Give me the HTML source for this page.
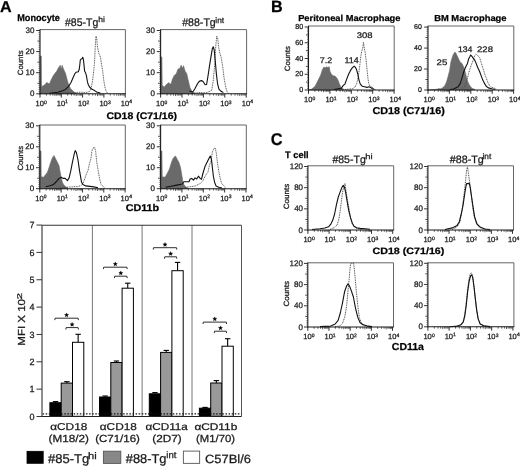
<!DOCTYPE html>
<html><head><meta charset="utf-8"><style>
html,body{margin:0;padding:0;background:#fff;width:520px;height:467px;overflow:hidden}
svg{display:block;font-family:"Liberation Sans", sans-serif;will-change:transform;text-rendering:geometricPrecision;filter:blur(0.25px)}
text{stroke:#111;stroke-width:0.25px;paint-order:stroke}
</style></head><body>
<svg width="520" height="467" viewBox="0 0 520 467">
<rect width="520" height="467" fill="#fff"/>
<line x1="40.00" y1="29.60" x2="125.40" y2="29.60" stroke="#555" stroke-width="0.9" />
<line x1="125.40" y1="29.60" x2="125.40" y2="93.80" stroke="#555" stroke-width="0.9" />
<polygon points="40.00,93.80 40.20,56.00 41.30,56.00 41.50,86.40 43.90,85.40 46.90,82.50 49.40,84.00 51.30,79.50 53.30,75.60 54.80,73.60 56.70,71.20 58.20,68.20 60.20,65.30 61.20,69.20 62.10,65.30 63.60,69.20 65.60,73.60 67.10,79.50 68.50,84.40 70.50,88.40 72.50,90.40 74.40,92.30 76.40,93.50 76.40,93.80" fill="#6a6a6a" stroke="#6a6a6a" stroke-width="0.6"/>
<polyline points="58.00,93.30 65.00,92.50 72.00,92.80 80.00,92.20 86.00,92.50 89.50,91.50 90.90,89.10 92.40,81.90 93.80,70.20 94.60,61.50 95.30,45.50 96.00,36.00 96.70,38.20 97.50,46.90 98.90,53.50 100.40,57.10 101.50,64.40 102.60,70.20 103.60,79.00 104.70,86.20 106.20,91.30 107.70,93.50" fill="none" stroke="#4a4a4a" stroke-width="0.95" stroke-dasharray="1,0.75" stroke-linejoin="round"/>
<polyline points="49.80,93.30 57.70,92.30 62.60,90.80 65.60,89.40 68.50,86.40 71.00,82.50 72.50,79.00 74.00,75.50 75.00,73.50 76.00,72.30 78.30,71.70 79.30,69.00 79.90,64.00 80.30,60.00 81.00,59.20 82.20,58.60 82.70,57.30 83.30,59.00 83.80,63.00 84.20,67.00 84.60,71.00 85.50,72.70 86.40,75.60 87.20,80.50 88.00,84.00 89.50,87.00 91.60,89.10 94.60,90.60 96.70,92.00 100.40,93.00" fill="none" stroke="#111" stroke-width="1.1" stroke-linejoin="round"/>
<line x1="40.00" y1="29.30" x2="40.00" y2="94.30" stroke="#1a1a1a" stroke-width="1.1" />
<line x1="39.50" y1="93.80" x2="125.80" y2="93.80" stroke="#1a1a1a" stroke-width="1.1" />
<line x1="36.20" y1="93.80" x2="40.00" y2="93.80" stroke="#1a1a1a" stroke-width="0.9" />
<text x="29.90" y="96.30" font-size="8" fill="#1a1a1a" textLength="4.45" lengthAdjust="spacingAndGlyphs">0</text>
<line x1="38.50" y1="91.69" x2="40.00" y2="91.69" stroke="#333" stroke-width="0.6" />
<line x1="38.50" y1="89.58" x2="40.00" y2="89.58" stroke="#333" stroke-width="0.6" />
<line x1="38.50" y1="87.47" x2="40.00" y2="87.47" stroke="#333" stroke-width="0.6" />
<line x1="38.50" y1="85.36" x2="40.00" y2="85.36" stroke="#333" stroke-width="0.6" />
<line x1="37.40" y1="83.25" x2="40.00" y2="83.25" stroke="#1a1a1a" stroke-width="0.8" />
<line x1="38.50" y1="81.14" x2="40.00" y2="81.14" stroke="#333" stroke-width="0.6" />
<line x1="38.50" y1="79.03" x2="40.00" y2="79.03" stroke="#333" stroke-width="0.6" />
<line x1="38.50" y1="76.92" x2="40.00" y2="76.92" stroke="#333" stroke-width="0.6" />
<line x1="38.50" y1="74.81" x2="40.00" y2="74.81" stroke="#333" stroke-width="0.6" />
<line x1="36.20" y1="72.70" x2="40.00" y2="72.70" stroke="#1a1a1a" stroke-width="0.9" />
<text x="25.45" y="75.20" font-size="8" fill="#1a1a1a" textLength="8.90" lengthAdjust="spacingAndGlyphs">10</text>
<line x1="38.50" y1="70.59" x2="40.00" y2="70.59" stroke="#333" stroke-width="0.6" />
<line x1="38.50" y1="68.48" x2="40.00" y2="68.48" stroke="#333" stroke-width="0.6" />
<line x1="38.50" y1="66.37" x2="40.00" y2="66.37" stroke="#333" stroke-width="0.6" />
<line x1="38.50" y1="64.26" x2="40.00" y2="64.26" stroke="#333" stroke-width="0.6" />
<line x1="37.40" y1="62.15" x2="40.00" y2="62.15" stroke="#1a1a1a" stroke-width="0.8" />
<line x1="38.50" y1="60.04" x2="40.00" y2="60.04" stroke="#333" stroke-width="0.6" />
<line x1="38.50" y1="57.93" x2="40.00" y2="57.93" stroke="#333" stroke-width="0.6" />
<line x1="38.50" y1="55.82" x2="40.00" y2="55.82" stroke="#333" stroke-width="0.6" />
<line x1="38.50" y1="53.71" x2="40.00" y2="53.71" stroke="#333" stroke-width="0.6" />
<line x1="36.20" y1="51.60" x2="40.00" y2="51.60" stroke="#1a1a1a" stroke-width="0.9" />
<text x="25.45" y="54.10" font-size="8" fill="#1a1a1a" textLength="8.90" lengthAdjust="spacingAndGlyphs">20</text>
<line x1="38.50" y1="49.49" x2="40.00" y2="49.49" stroke="#333" stroke-width="0.6" />
<line x1="38.50" y1="47.38" x2="40.00" y2="47.38" stroke="#333" stroke-width="0.6" />
<line x1="38.50" y1="45.27" x2="40.00" y2="45.27" stroke="#333" stroke-width="0.6" />
<line x1="38.50" y1="43.16" x2="40.00" y2="43.16" stroke="#333" stroke-width="0.6" />
<line x1="37.40" y1="41.05" x2="40.00" y2="41.05" stroke="#1a1a1a" stroke-width="0.8" />
<line x1="38.50" y1="38.94" x2="40.00" y2="38.94" stroke="#333" stroke-width="0.6" />
<line x1="38.50" y1="36.83" x2="40.00" y2="36.83" stroke="#333" stroke-width="0.6" />
<line x1="38.50" y1="34.72" x2="40.00" y2="34.72" stroke="#333" stroke-width="0.6" />
<line x1="38.50" y1="32.61" x2="40.00" y2="32.61" stroke="#333" stroke-width="0.6" />
<line x1="36.20" y1="30.50" x2="40.00" y2="30.50" stroke="#1a1a1a" stroke-width="0.9" />
<text x="25.45" y="33.00" font-size="8" fill="#1a1a1a" textLength="8.90" lengthAdjust="spacingAndGlyphs">30</text>
<line x1="40.00" y1="93.80" x2="40.00" y2="97.60" stroke="#1a1a1a" stroke-width="0.9" />
<line x1="46.41" y1="93.80" x2="46.41" y2="95.60" stroke="#1a1a1a" stroke-width="0.7" />
<line x1="50.16" y1="93.80" x2="50.16" y2="95.60" stroke="#1a1a1a" stroke-width="0.7" />
<line x1="52.82" y1="93.80" x2="52.82" y2="95.60" stroke="#1a1a1a" stroke-width="0.7" />
<line x1="54.89" y1="93.80" x2="54.89" y2="96.10" stroke="#1a1a1a" stroke-width="0.7" />
<line x1="56.57" y1="93.80" x2="56.57" y2="95.60" stroke="#1a1a1a" stroke-width="0.7" />
<line x1="58.00" y1="93.80" x2="58.00" y2="95.60" stroke="#1a1a1a" stroke-width="0.7" />
<line x1="59.24" y1="93.80" x2="59.24" y2="95.60" stroke="#1a1a1a" stroke-width="0.7" />
<line x1="60.33" y1="93.80" x2="60.33" y2="95.60" stroke="#1a1a1a" stroke-width="0.7" />
<text x="35.52" y="106.25" font-size="7.5" fill="#1a1a1a">10</text>
<text x="44.02" y="103.50" font-size="5.0" fill="#1a1a1a">0</text>
<line x1="61.30" y1="93.80" x2="61.30" y2="97.60" stroke="#1a1a1a" stroke-width="0.9" />
<line x1="67.71" y1="93.80" x2="67.71" y2="95.60" stroke="#1a1a1a" stroke-width="0.7" />
<line x1="71.46" y1="93.80" x2="71.46" y2="95.60" stroke="#1a1a1a" stroke-width="0.7" />
<line x1="74.12" y1="93.80" x2="74.12" y2="95.60" stroke="#1a1a1a" stroke-width="0.7" />
<line x1="76.19" y1="93.80" x2="76.19" y2="96.10" stroke="#1a1a1a" stroke-width="0.7" />
<line x1="77.87" y1="93.80" x2="77.87" y2="95.60" stroke="#1a1a1a" stroke-width="0.7" />
<line x1="79.30" y1="93.80" x2="79.30" y2="95.60" stroke="#1a1a1a" stroke-width="0.7" />
<line x1="80.54" y1="93.80" x2="80.54" y2="95.60" stroke="#1a1a1a" stroke-width="0.7" />
<line x1="81.63" y1="93.80" x2="81.63" y2="95.60" stroke="#1a1a1a" stroke-width="0.7" />
<text x="56.82" y="106.25" font-size="7.5" fill="#1a1a1a">10</text>
<text x="65.12" y="103.45" font-size="5.0" fill="#1a1a1a">1</text>
<line x1="82.60" y1="93.80" x2="82.60" y2="97.60" stroke="#1a1a1a" stroke-width="0.9" />
<line x1="89.01" y1="93.80" x2="89.01" y2="95.60" stroke="#1a1a1a" stroke-width="0.7" />
<line x1="92.76" y1="93.80" x2="92.76" y2="95.60" stroke="#1a1a1a" stroke-width="0.7" />
<line x1="95.42" y1="93.80" x2="95.42" y2="95.60" stroke="#1a1a1a" stroke-width="0.7" />
<line x1="97.49" y1="93.80" x2="97.49" y2="96.10" stroke="#1a1a1a" stroke-width="0.7" />
<line x1="99.17" y1="93.80" x2="99.17" y2="95.60" stroke="#1a1a1a" stroke-width="0.7" />
<line x1="100.60" y1="93.80" x2="100.60" y2="95.60" stroke="#1a1a1a" stroke-width="0.7" />
<line x1="101.84" y1="93.80" x2="101.84" y2="95.60" stroke="#1a1a1a" stroke-width="0.7" />
<line x1="102.93" y1="93.80" x2="102.93" y2="95.60" stroke="#1a1a1a" stroke-width="0.7" />
<text x="78.12" y="106.25" font-size="7.5" fill="#1a1a1a">10</text>
<text x="86.58" y="103.50" font-size="5.0" fill="#1a1a1a">2</text>
<line x1="103.90" y1="93.80" x2="103.90" y2="97.60" stroke="#1a1a1a" stroke-width="0.9" />
<line x1="110.31" y1="93.80" x2="110.31" y2="95.60" stroke="#1a1a1a" stroke-width="0.7" />
<line x1="114.06" y1="93.80" x2="114.06" y2="95.60" stroke="#1a1a1a" stroke-width="0.7" />
<line x1="116.72" y1="93.80" x2="116.72" y2="95.60" stroke="#1a1a1a" stroke-width="0.7" />
<line x1="118.79" y1="93.80" x2="118.79" y2="96.10" stroke="#1a1a1a" stroke-width="0.7" />
<line x1="120.47" y1="93.80" x2="120.47" y2="95.60" stroke="#1a1a1a" stroke-width="0.7" />
<line x1="121.90" y1="93.80" x2="121.90" y2="95.60" stroke="#1a1a1a" stroke-width="0.7" />
<line x1="123.14" y1="93.80" x2="123.14" y2="95.60" stroke="#1a1a1a" stroke-width="0.7" />
<line x1="124.23" y1="93.80" x2="124.23" y2="95.60" stroke="#1a1a1a" stroke-width="0.7" />
<text x="99.43" y="106.25" font-size="7.5" fill="#1a1a1a">10</text>
<text x="107.93" y="103.50" font-size="5.0" fill="#1a1a1a">3</text>
<line x1="125.20" y1="93.80" x2="125.20" y2="97.60" stroke="#1a1a1a" stroke-width="0.9" />
<text x="120.73" y="106.25" font-size="7.5" fill="#1a1a1a">10</text>
<text x="129.32" y="103.45" font-size="5.0" fill="#1a1a1a">4</text>
<text x="23.30" y="75.21" font-size="7.6" fill="#1a1a1a" textLength="24.75" lengthAdjust="spacingAndGlyphs" transform="rotate(-90 23.30 75.21)" dx="0">Counts</text>
<line x1="160.60" y1="29.60" x2="246.60" y2="29.60" stroke="#555" stroke-width="0.9" />
<line x1="246.60" y1="29.60" x2="246.60" y2="93.80" stroke="#555" stroke-width="0.9" />
<polygon points="160.60,93.80 160.80,57.00 161.90,57.00 162.20,85.40 164.40,87.00 166.60,84.30 168.70,82.70 170.90,84.30 172.60,78.80 174.20,75.60 176.40,73.40 178.00,69.00 179.70,68.50 181.30,65.20 182.40,68.50 183.50,65.70 185.10,71.20 186.70,73.40 188.40,81.00 190.00,87.60 191.70,90.90 193.30,92.50 195.00,93.50 195.00,93.80" fill="#6a6a6a" stroke="#6a6a6a" stroke-width="0.6"/>
<polyline points="192.00,93.20 200.00,92.60 206.00,92.80 211.60,90.60 213.10,81.90 214.60,65.80 215.70,46.90 216.70,36.00 217.80,38.90 218.60,46.90 219.70,52.70 221.10,57.10 222.60,65.80 224.00,77.50 225.50,86.20 226.90,91.30 228.40,93.20" fill="none" stroke="#4a4a4a" stroke-width="0.95" stroke-dasharray="1,0.75" stroke-linejoin="round"/>
<polyline points="189.50,90.90 192.80,92.00 194.90,88.70 196.60,85.40 198.20,82.70 199.80,81.00 201.50,80.60 203.10,81.50 205.10,84.80 206.60,84.50 208.00,76.00 209.50,65.80 210.90,57.10 212.40,48.40 213.40,46.90 214.30,50.60 215.30,61.50 216.30,73.10 217.50,83.30 218.90,89.10 221.10,91.30 223.30,92.50" fill="none" stroke="#111" stroke-width="1.1" stroke-linejoin="round"/>
<line x1="160.60" y1="29.30" x2="160.60" y2="94.30" stroke="#1a1a1a" stroke-width="1.1" />
<line x1="160.10" y1="93.80" x2="247.00" y2="93.80" stroke="#1a1a1a" stroke-width="1.1" />
<line x1="156.80" y1="93.80" x2="160.60" y2="93.80" stroke="#1a1a1a" stroke-width="0.9" />
<text x="150.50" y="96.30" font-size="8" fill="#1a1a1a" textLength="4.45" lengthAdjust="spacingAndGlyphs">0</text>
<line x1="159.10" y1="91.69" x2="160.60" y2="91.69" stroke="#333" stroke-width="0.6" />
<line x1="159.10" y1="89.58" x2="160.60" y2="89.58" stroke="#333" stroke-width="0.6" />
<line x1="159.10" y1="87.47" x2="160.60" y2="87.47" stroke="#333" stroke-width="0.6" />
<line x1="159.10" y1="85.36" x2="160.60" y2="85.36" stroke="#333" stroke-width="0.6" />
<line x1="158.00" y1="83.25" x2="160.60" y2="83.25" stroke="#1a1a1a" stroke-width="0.8" />
<line x1="159.10" y1="81.14" x2="160.60" y2="81.14" stroke="#333" stroke-width="0.6" />
<line x1="159.10" y1="79.03" x2="160.60" y2="79.03" stroke="#333" stroke-width="0.6" />
<line x1="159.10" y1="76.92" x2="160.60" y2="76.92" stroke="#333" stroke-width="0.6" />
<line x1="159.10" y1="74.81" x2="160.60" y2="74.81" stroke="#333" stroke-width="0.6" />
<line x1="156.80" y1="72.70" x2="160.60" y2="72.70" stroke="#1a1a1a" stroke-width="0.9" />
<text x="146.05" y="75.20" font-size="8" fill="#1a1a1a" textLength="8.90" lengthAdjust="spacingAndGlyphs">10</text>
<line x1="159.10" y1="70.59" x2="160.60" y2="70.59" stroke="#333" stroke-width="0.6" />
<line x1="159.10" y1="68.48" x2="160.60" y2="68.48" stroke="#333" stroke-width="0.6" />
<line x1="159.10" y1="66.37" x2="160.60" y2="66.37" stroke="#333" stroke-width="0.6" />
<line x1="159.10" y1="64.26" x2="160.60" y2="64.26" stroke="#333" stroke-width="0.6" />
<line x1="158.00" y1="62.15" x2="160.60" y2="62.15" stroke="#1a1a1a" stroke-width="0.8" />
<line x1="159.10" y1="60.04" x2="160.60" y2="60.04" stroke="#333" stroke-width="0.6" />
<line x1="159.10" y1="57.93" x2="160.60" y2="57.93" stroke="#333" stroke-width="0.6" />
<line x1="159.10" y1="55.82" x2="160.60" y2="55.82" stroke="#333" stroke-width="0.6" />
<line x1="159.10" y1="53.71" x2="160.60" y2="53.71" stroke="#333" stroke-width="0.6" />
<line x1="156.80" y1="51.60" x2="160.60" y2="51.60" stroke="#1a1a1a" stroke-width="0.9" />
<text x="146.05" y="54.10" font-size="8" fill="#1a1a1a" textLength="8.90" lengthAdjust="spacingAndGlyphs">20</text>
<line x1="159.10" y1="49.49" x2="160.60" y2="49.49" stroke="#333" stroke-width="0.6" />
<line x1="159.10" y1="47.38" x2="160.60" y2="47.38" stroke="#333" stroke-width="0.6" />
<line x1="159.10" y1="45.27" x2="160.60" y2="45.27" stroke="#333" stroke-width="0.6" />
<line x1="159.10" y1="43.16" x2="160.60" y2="43.16" stroke="#333" stroke-width="0.6" />
<line x1="158.00" y1="41.05" x2="160.60" y2="41.05" stroke="#1a1a1a" stroke-width="0.8" />
<line x1="159.10" y1="38.94" x2="160.60" y2="38.94" stroke="#333" stroke-width="0.6" />
<line x1="159.10" y1="36.83" x2="160.60" y2="36.83" stroke="#333" stroke-width="0.6" />
<line x1="159.10" y1="34.72" x2="160.60" y2="34.72" stroke="#333" stroke-width="0.6" />
<line x1="159.10" y1="32.61" x2="160.60" y2="32.61" stroke="#333" stroke-width="0.6" />
<line x1="156.80" y1="30.50" x2="160.60" y2="30.50" stroke="#1a1a1a" stroke-width="0.9" />
<text x="146.05" y="33.00" font-size="8" fill="#1a1a1a" textLength="8.90" lengthAdjust="spacingAndGlyphs">30</text>
<line x1="160.60" y1="93.80" x2="160.60" y2="97.60" stroke="#1a1a1a" stroke-width="0.9" />
<line x1="167.04" y1="93.80" x2="167.04" y2="95.60" stroke="#1a1a1a" stroke-width="0.7" />
<line x1="170.81" y1="93.80" x2="170.81" y2="95.60" stroke="#1a1a1a" stroke-width="0.7" />
<line x1="173.48" y1="93.80" x2="173.48" y2="95.60" stroke="#1a1a1a" stroke-width="0.7" />
<line x1="175.56" y1="93.80" x2="175.56" y2="96.10" stroke="#1a1a1a" stroke-width="0.7" />
<line x1="177.25" y1="93.80" x2="177.25" y2="95.60" stroke="#1a1a1a" stroke-width="0.7" />
<line x1="178.69" y1="93.80" x2="178.69" y2="95.60" stroke="#1a1a1a" stroke-width="0.7" />
<line x1="179.93" y1="93.80" x2="179.93" y2="95.60" stroke="#1a1a1a" stroke-width="0.7" />
<line x1="181.02" y1="93.80" x2="181.02" y2="95.60" stroke="#1a1a1a" stroke-width="0.7" />
<text x="156.12" y="106.25" font-size="7.5" fill="#1a1a1a">10</text>
<text x="164.62" y="103.50" font-size="5.0" fill="#1a1a1a">0</text>
<line x1="182.00" y1="93.80" x2="182.00" y2="97.60" stroke="#1a1a1a" stroke-width="0.9" />
<line x1="188.44" y1="93.80" x2="188.44" y2="95.60" stroke="#1a1a1a" stroke-width="0.7" />
<line x1="192.21" y1="93.80" x2="192.21" y2="95.60" stroke="#1a1a1a" stroke-width="0.7" />
<line x1="194.88" y1="93.80" x2="194.88" y2="95.60" stroke="#1a1a1a" stroke-width="0.7" />
<line x1="196.96" y1="93.80" x2="196.96" y2="96.10" stroke="#1a1a1a" stroke-width="0.7" />
<line x1="198.65" y1="93.80" x2="198.65" y2="95.60" stroke="#1a1a1a" stroke-width="0.7" />
<line x1="200.09" y1="93.80" x2="200.09" y2="95.60" stroke="#1a1a1a" stroke-width="0.7" />
<line x1="201.33" y1="93.80" x2="201.33" y2="95.60" stroke="#1a1a1a" stroke-width="0.7" />
<line x1="202.42" y1="93.80" x2="202.42" y2="95.60" stroke="#1a1a1a" stroke-width="0.7" />
<text x="177.53" y="106.25" font-size="7.5" fill="#1a1a1a">10</text>
<text x="185.82" y="103.45" font-size="5.0" fill="#1a1a1a">1</text>
<line x1="203.40" y1="93.80" x2="203.40" y2="97.60" stroke="#1a1a1a" stroke-width="0.9" />
<line x1="209.84" y1="93.80" x2="209.84" y2="95.60" stroke="#1a1a1a" stroke-width="0.7" />
<line x1="213.61" y1="93.80" x2="213.61" y2="95.60" stroke="#1a1a1a" stroke-width="0.7" />
<line x1="216.28" y1="93.80" x2="216.28" y2="95.60" stroke="#1a1a1a" stroke-width="0.7" />
<line x1="218.36" y1="93.80" x2="218.36" y2="96.10" stroke="#1a1a1a" stroke-width="0.7" />
<line x1="220.05" y1="93.80" x2="220.05" y2="95.60" stroke="#1a1a1a" stroke-width="0.7" />
<line x1="221.49" y1="93.80" x2="221.49" y2="95.60" stroke="#1a1a1a" stroke-width="0.7" />
<line x1="222.73" y1="93.80" x2="222.73" y2="95.60" stroke="#1a1a1a" stroke-width="0.7" />
<line x1="223.82" y1="93.80" x2="223.82" y2="95.60" stroke="#1a1a1a" stroke-width="0.7" />
<text x="198.92" y="106.25" font-size="7.5" fill="#1a1a1a">10</text>
<text x="207.37" y="103.50" font-size="5.0" fill="#1a1a1a">2</text>
<line x1="224.80" y1="93.80" x2="224.80" y2="97.60" stroke="#1a1a1a" stroke-width="0.9" />
<line x1="231.24" y1="93.80" x2="231.24" y2="95.60" stroke="#1a1a1a" stroke-width="0.7" />
<line x1="235.01" y1="93.80" x2="235.01" y2="95.60" stroke="#1a1a1a" stroke-width="0.7" />
<line x1="237.68" y1="93.80" x2="237.68" y2="95.60" stroke="#1a1a1a" stroke-width="0.7" />
<line x1="239.76" y1="93.80" x2="239.76" y2="96.10" stroke="#1a1a1a" stroke-width="0.7" />
<line x1="241.45" y1="93.80" x2="241.45" y2="95.60" stroke="#1a1a1a" stroke-width="0.7" />
<line x1="242.89" y1="93.80" x2="242.89" y2="95.60" stroke="#1a1a1a" stroke-width="0.7" />
<line x1="244.13" y1="93.80" x2="244.13" y2="95.60" stroke="#1a1a1a" stroke-width="0.7" />
<line x1="245.22" y1="93.80" x2="245.22" y2="95.60" stroke="#1a1a1a" stroke-width="0.7" />
<text x="220.32" y="106.25" font-size="7.5" fill="#1a1a1a">10</text>
<text x="228.82" y="103.50" font-size="5.0" fill="#1a1a1a">3</text>
<line x1="246.20" y1="93.80" x2="246.20" y2="97.60" stroke="#1a1a1a" stroke-width="0.9" />
<text x="241.72" y="106.25" font-size="7.5" fill="#1a1a1a">10</text>
<text x="250.32" y="103.45" font-size="5.0" fill="#1a1a1a">4</text>
<line x1="39.80" y1="125.00" x2="125.30" y2="125.00" stroke="#555" stroke-width="0.9" />
<line x1="125.30" y1="125.00" x2="125.30" y2="188.70" stroke="#555" stroke-width="0.9" />
<polygon points="39.80,188.70 40.00,151.00 41.00,151.00 41.20,176.70 43.50,177.30 45.70,174.50 47.40,172.30 49.00,167.80 50.70,162.30 52.40,157.80 54.00,155.60 55.70,158.90 57.40,162.30 59.00,165.60 60.20,172.30 61.30,177.90 62.40,182.30 63.50,184.50 65.70,186.80 68.00,188.30 68.00,188.70" fill="#6a6a6a" stroke="#6a6a6a" stroke-width="0.6"/>
<polyline points="60.00,187.80 70.00,187.00 78.00,186.50 81.00,185.50 82.90,183.70 85.10,177.90 86.60,173.50 88.00,170.60 89.50,163.30 90.90,158.90 91.90,150.90 93.10,148.00 94.60,147.30 95.70,151.70 96.70,161.80 98.20,170.60 99.70,179.30 101.10,184.40 103.30,186.60 104.70,188.00" fill="none" stroke="#4a4a4a" stroke-width="0.95" stroke-dasharray="1,0.75" stroke-linejoin="round"/>
<polyline points="45.70,186.80 50.10,185.70 53.50,184.50 56.80,181.20 59.00,178.40 61.30,177.30 62.90,178.40 65.20,178.40 67.40,180.60 69.10,177.90 70.70,171.20 72.40,162.30 74.10,154.50 75.20,150.60 76.30,152.20 78.00,160.00 79.60,171.20 80.80,177.90 81.50,182.20 82.90,184.40 85.80,185.90 93.80,186.90 98.00,187.80" fill="none" stroke="#111" stroke-width="1.1" stroke-linejoin="round"/>
<line x1="39.80" y1="124.70" x2="39.80" y2="189.20" stroke="#1a1a1a" stroke-width="1.1" />
<line x1="39.30" y1="188.70" x2="125.70" y2="188.70" stroke="#1a1a1a" stroke-width="1.1" />
<line x1="36.00" y1="188.70" x2="39.80" y2="188.70" stroke="#1a1a1a" stroke-width="0.9" />
<text x="29.70" y="191.20" font-size="8" fill="#1a1a1a" textLength="4.45" lengthAdjust="spacingAndGlyphs">0</text>
<line x1="38.30" y1="186.60" x2="39.80" y2="186.60" stroke="#333" stroke-width="0.6" />
<line x1="38.30" y1="184.51" x2="39.80" y2="184.51" stroke="#333" stroke-width="0.6" />
<line x1="38.30" y1="182.41" x2="39.80" y2="182.41" stroke="#333" stroke-width="0.6" />
<line x1="38.30" y1="180.31" x2="39.80" y2="180.31" stroke="#333" stroke-width="0.6" />
<line x1="37.20" y1="178.22" x2="39.80" y2="178.22" stroke="#1a1a1a" stroke-width="0.8" />
<line x1="38.30" y1="176.12" x2="39.80" y2="176.12" stroke="#333" stroke-width="0.6" />
<line x1="38.30" y1="174.02" x2="39.80" y2="174.02" stroke="#333" stroke-width="0.6" />
<line x1="38.30" y1="171.93" x2="39.80" y2="171.93" stroke="#333" stroke-width="0.6" />
<line x1="38.30" y1="169.83" x2="39.80" y2="169.83" stroke="#333" stroke-width="0.6" />
<line x1="36.00" y1="167.73" x2="39.80" y2="167.73" stroke="#1a1a1a" stroke-width="0.9" />
<text x="25.25" y="170.23" font-size="8" fill="#1a1a1a" textLength="8.90" lengthAdjust="spacingAndGlyphs">10</text>
<line x1="38.30" y1="165.64" x2="39.80" y2="165.64" stroke="#333" stroke-width="0.6" />
<line x1="38.30" y1="163.54" x2="39.80" y2="163.54" stroke="#333" stroke-width="0.6" />
<line x1="38.30" y1="161.44" x2="39.80" y2="161.44" stroke="#333" stroke-width="0.6" />
<line x1="38.30" y1="159.35" x2="39.80" y2="159.35" stroke="#333" stroke-width="0.6" />
<line x1="37.20" y1="157.25" x2="39.80" y2="157.25" stroke="#1a1a1a" stroke-width="0.8" />
<line x1="38.30" y1="155.15" x2="39.80" y2="155.15" stroke="#333" stroke-width="0.6" />
<line x1="38.30" y1="153.06" x2="39.80" y2="153.06" stroke="#333" stroke-width="0.6" />
<line x1="38.30" y1="150.96" x2="39.80" y2="150.96" stroke="#333" stroke-width="0.6" />
<line x1="38.30" y1="148.86" x2="39.80" y2="148.86" stroke="#333" stroke-width="0.6" />
<line x1="36.00" y1="146.77" x2="39.80" y2="146.77" stroke="#1a1a1a" stroke-width="0.9" />
<text x="25.25" y="149.27" font-size="8" fill="#1a1a1a" textLength="8.90" lengthAdjust="spacingAndGlyphs">20</text>
<line x1="38.30" y1="144.67" x2="39.80" y2="144.67" stroke="#333" stroke-width="0.6" />
<line x1="38.30" y1="142.57" x2="39.80" y2="142.57" stroke="#333" stroke-width="0.6" />
<line x1="38.30" y1="140.48" x2="39.80" y2="140.48" stroke="#333" stroke-width="0.6" />
<line x1="38.30" y1="138.38" x2="39.80" y2="138.38" stroke="#333" stroke-width="0.6" />
<line x1="37.20" y1="136.28" x2="39.80" y2="136.28" stroke="#1a1a1a" stroke-width="0.8" />
<line x1="38.30" y1="134.19" x2="39.80" y2="134.19" stroke="#333" stroke-width="0.6" />
<line x1="38.30" y1="132.09" x2="39.80" y2="132.09" stroke="#333" stroke-width="0.6" />
<line x1="38.30" y1="129.99" x2="39.80" y2="129.99" stroke="#333" stroke-width="0.6" />
<line x1="38.30" y1="127.90" x2="39.80" y2="127.90" stroke="#333" stroke-width="0.6" />
<line x1="36.00" y1="125.80" x2="39.80" y2="125.80" stroke="#1a1a1a" stroke-width="0.9" />
<text x="25.25" y="128.30" font-size="8" fill="#1a1a1a" textLength="8.90" lengthAdjust="spacingAndGlyphs">30</text>
<line x1="39.80" y1="188.70" x2="39.80" y2="192.50" stroke="#1a1a1a" stroke-width="0.9" />
<line x1="46.22" y1="188.70" x2="46.22" y2="190.50" stroke="#1a1a1a" stroke-width="0.7" />
<line x1="49.97" y1="188.70" x2="49.97" y2="190.50" stroke="#1a1a1a" stroke-width="0.7" />
<line x1="52.64" y1="188.70" x2="52.64" y2="190.50" stroke="#1a1a1a" stroke-width="0.7" />
<line x1="54.71" y1="188.70" x2="54.71" y2="191.00" stroke="#1a1a1a" stroke-width="0.7" />
<line x1="56.39" y1="188.70" x2="56.39" y2="190.50" stroke="#1a1a1a" stroke-width="0.7" />
<line x1="57.82" y1="188.70" x2="57.82" y2="190.50" stroke="#1a1a1a" stroke-width="0.7" />
<line x1="59.06" y1="188.70" x2="59.06" y2="190.50" stroke="#1a1a1a" stroke-width="0.7" />
<line x1="60.15" y1="188.70" x2="60.15" y2="190.50" stroke="#1a1a1a" stroke-width="0.7" />
<text x="35.32" y="201.15" font-size="7.5" fill="#1a1a1a">10</text>
<text x="43.82" y="198.40" font-size="5.0" fill="#1a1a1a">0</text>
<line x1="61.12" y1="188.70" x2="61.12" y2="192.50" stroke="#1a1a1a" stroke-width="0.9" />
<line x1="67.54" y1="188.70" x2="67.54" y2="190.50" stroke="#1a1a1a" stroke-width="0.7" />
<line x1="71.30" y1="188.70" x2="71.30" y2="190.50" stroke="#1a1a1a" stroke-width="0.7" />
<line x1="73.96" y1="188.70" x2="73.96" y2="190.50" stroke="#1a1a1a" stroke-width="0.7" />
<line x1="76.03" y1="188.70" x2="76.03" y2="191.00" stroke="#1a1a1a" stroke-width="0.7" />
<line x1="77.72" y1="188.70" x2="77.72" y2="190.50" stroke="#1a1a1a" stroke-width="0.7" />
<line x1="79.15" y1="188.70" x2="79.15" y2="190.50" stroke="#1a1a1a" stroke-width="0.7" />
<line x1="80.38" y1="188.70" x2="80.38" y2="190.50" stroke="#1a1a1a" stroke-width="0.7" />
<line x1="81.47" y1="188.70" x2="81.47" y2="190.50" stroke="#1a1a1a" stroke-width="0.7" />
<text x="56.65" y="201.15" font-size="7.5" fill="#1a1a1a">10</text>
<text x="64.95" y="198.35" font-size="5.0" fill="#1a1a1a">1</text>
<line x1="82.45" y1="188.70" x2="82.45" y2="192.50" stroke="#1a1a1a" stroke-width="0.9" />
<line x1="88.87" y1="188.70" x2="88.87" y2="190.50" stroke="#1a1a1a" stroke-width="0.7" />
<line x1="92.62" y1="188.70" x2="92.62" y2="190.50" stroke="#1a1a1a" stroke-width="0.7" />
<line x1="95.29" y1="188.70" x2="95.29" y2="190.50" stroke="#1a1a1a" stroke-width="0.7" />
<line x1="97.36" y1="188.70" x2="97.36" y2="191.00" stroke="#1a1a1a" stroke-width="0.7" />
<line x1="99.04" y1="188.70" x2="99.04" y2="190.50" stroke="#1a1a1a" stroke-width="0.7" />
<line x1="100.47" y1="188.70" x2="100.47" y2="190.50" stroke="#1a1a1a" stroke-width="0.7" />
<line x1="101.71" y1="188.70" x2="101.71" y2="190.50" stroke="#1a1a1a" stroke-width="0.7" />
<line x1="102.80" y1="188.70" x2="102.80" y2="190.50" stroke="#1a1a1a" stroke-width="0.7" />
<text x="77.97" y="201.15" font-size="7.5" fill="#1a1a1a">10</text>
<text x="86.42" y="198.40" font-size="5.0" fill="#1a1a1a">2</text>
<line x1="103.77" y1="188.70" x2="103.77" y2="192.50" stroke="#1a1a1a" stroke-width="0.9" />
<line x1="110.19" y1="188.70" x2="110.19" y2="190.50" stroke="#1a1a1a" stroke-width="0.7" />
<line x1="113.95" y1="188.70" x2="113.95" y2="190.50" stroke="#1a1a1a" stroke-width="0.7" />
<line x1="116.61" y1="188.70" x2="116.61" y2="190.50" stroke="#1a1a1a" stroke-width="0.7" />
<line x1="118.68" y1="188.70" x2="118.68" y2="191.00" stroke="#1a1a1a" stroke-width="0.7" />
<line x1="120.37" y1="188.70" x2="120.37" y2="190.50" stroke="#1a1a1a" stroke-width="0.7" />
<line x1="121.80" y1="188.70" x2="121.80" y2="190.50" stroke="#1a1a1a" stroke-width="0.7" />
<line x1="123.03" y1="188.70" x2="123.03" y2="190.50" stroke="#1a1a1a" stroke-width="0.7" />
<line x1="124.12" y1="188.70" x2="124.12" y2="190.50" stroke="#1a1a1a" stroke-width="0.7" />
<text x="99.30" y="201.15" font-size="7.5" fill="#1a1a1a">10</text>
<text x="107.80" y="198.40" font-size="5.0" fill="#1a1a1a">3</text>
<line x1="125.10" y1="188.70" x2="125.10" y2="192.50" stroke="#1a1a1a" stroke-width="0.9" />
<text x="120.62" y="201.15" font-size="7.5" fill="#1a1a1a">10</text>
<text x="129.22" y="198.35" font-size="5.0" fill="#1a1a1a">4</text>
<text x="23.30" y="170.61" font-size="7.6" fill="#1a1a1a" textLength="24.75" lengthAdjust="spacingAndGlyphs" transform="rotate(-90 23.30 170.61)" dx="0">Counts</text>
<line x1="160.60" y1="125.00" x2="246.30" y2="125.00" stroke="#555" stroke-width="0.9" />
<line x1="246.30" y1="125.00" x2="246.30" y2="188.70" stroke="#555" stroke-width="0.9" />
<polygon points="160.60,188.70 160.80,151.00 161.90,151.00 162.20,176.70 165.00,177.30 167.20,173.40 169.50,169.00 171.10,163.40 172.80,158.90 174.50,156.70 175.60,156.10 177.30,159.50 178.90,162.30 180.60,167.80 181.70,174.50 182.80,181.20 183.90,184.50 185.60,186.80 188.00,188.30 188.00,188.70" fill="#6a6a6a" stroke="#6a6a6a" stroke-width="0.6"/>
<polyline points="185.00,187.50 195.00,186.00 200.00,183.70 202.90,180.80 205.80,175.00 208.00,172.00 209.50,164.80 210.90,161.80 212.40,151.70 213.80,148.70 215.30,148.00 216.30,153.10 217.50,163.30 218.90,172.00 220.40,179.30 221.80,183.70 224.00,185.90 225.50,188.00" fill="none" stroke="#4a4a4a" stroke-width="0.95" stroke-dasharray="1,0.75" stroke-linejoin="round"/>
<polyline points="165.60,187.30 171.10,186.20 176.70,185.10 182.30,184.00 183.90,181.80 189.00,181.80 190.10,179.00 191.70,178.40 193.40,180.10 195.10,177.90 196.70,179.00 198.40,176.20 200.10,178.40 201.50,179.30 202.90,173.50 205.10,166.20 207.30,161.80 208.70,158.90 210.20,156.00 211.40,158.90 212.40,167.70 213.40,176.40 214.60,182.20 216.00,185.90 218.90,187.30 222.00,188.00" fill="none" stroke="#111" stroke-width="1.1" stroke-linejoin="round"/>
<line x1="160.60" y1="124.70" x2="160.60" y2="189.20" stroke="#1a1a1a" stroke-width="1.1" />
<line x1="160.10" y1="188.70" x2="246.70" y2="188.70" stroke="#1a1a1a" stroke-width="1.1" />
<line x1="156.80" y1="188.70" x2="160.60" y2="188.70" stroke="#1a1a1a" stroke-width="0.9" />
<text x="150.50" y="191.20" font-size="8" fill="#1a1a1a" textLength="4.45" lengthAdjust="spacingAndGlyphs">0</text>
<line x1="159.10" y1="186.60" x2="160.60" y2="186.60" stroke="#333" stroke-width="0.6" />
<line x1="159.10" y1="184.51" x2="160.60" y2="184.51" stroke="#333" stroke-width="0.6" />
<line x1="159.10" y1="182.41" x2="160.60" y2="182.41" stroke="#333" stroke-width="0.6" />
<line x1="159.10" y1="180.31" x2="160.60" y2="180.31" stroke="#333" stroke-width="0.6" />
<line x1="158.00" y1="178.22" x2="160.60" y2="178.22" stroke="#1a1a1a" stroke-width="0.8" />
<line x1="159.10" y1="176.12" x2="160.60" y2="176.12" stroke="#333" stroke-width="0.6" />
<line x1="159.10" y1="174.02" x2="160.60" y2="174.02" stroke="#333" stroke-width="0.6" />
<line x1="159.10" y1="171.93" x2="160.60" y2="171.93" stroke="#333" stroke-width="0.6" />
<line x1="159.10" y1="169.83" x2="160.60" y2="169.83" stroke="#333" stroke-width="0.6" />
<line x1="156.80" y1="167.73" x2="160.60" y2="167.73" stroke="#1a1a1a" stroke-width="0.9" />
<text x="146.05" y="170.23" font-size="8" fill="#1a1a1a" textLength="8.90" lengthAdjust="spacingAndGlyphs">10</text>
<line x1="159.10" y1="165.64" x2="160.60" y2="165.64" stroke="#333" stroke-width="0.6" />
<line x1="159.10" y1="163.54" x2="160.60" y2="163.54" stroke="#333" stroke-width="0.6" />
<line x1="159.10" y1="161.44" x2="160.60" y2="161.44" stroke="#333" stroke-width="0.6" />
<line x1="159.10" y1="159.35" x2="160.60" y2="159.35" stroke="#333" stroke-width="0.6" />
<line x1="158.00" y1="157.25" x2="160.60" y2="157.25" stroke="#1a1a1a" stroke-width="0.8" />
<line x1="159.10" y1="155.15" x2="160.60" y2="155.15" stroke="#333" stroke-width="0.6" />
<line x1="159.10" y1="153.06" x2="160.60" y2="153.06" stroke="#333" stroke-width="0.6" />
<line x1="159.10" y1="150.96" x2="160.60" y2="150.96" stroke="#333" stroke-width="0.6" />
<line x1="159.10" y1="148.86" x2="160.60" y2="148.86" stroke="#333" stroke-width="0.6" />
<line x1="156.80" y1="146.77" x2="160.60" y2="146.77" stroke="#1a1a1a" stroke-width="0.9" />
<text x="146.05" y="149.27" font-size="8" fill="#1a1a1a" textLength="8.90" lengthAdjust="spacingAndGlyphs">20</text>
<line x1="159.10" y1="144.67" x2="160.60" y2="144.67" stroke="#333" stroke-width="0.6" />
<line x1="159.10" y1="142.57" x2="160.60" y2="142.57" stroke="#333" stroke-width="0.6" />
<line x1="159.10" y1="140.48" x2="160.60" y2="140.48" stroke="#333" stroke-width="0.6" />
<line x1="159.10" y1="138.38" x2="160.60" y2="138.38" stroke="#333" stroke-width="0.6" />
<line x1="158.00" y1="136.28" x2="160.60" y2="136.28" stroke="#1a1a1a" stroke-width="0.8" />
<line x1="159.10" y1="134.19" x2="160.60" y2="134.19" stroke="#333" stroke-width="0.6" />
<line x1="159.10" y1="132.09" x2="160.60" y2="132.09" stroke="#333" stroke-width="0.6" />
<line x1="159.10" y1="129.99" x2="160.60" y2="129.99" stroke="#333" stroke-width="0.6" />
<line x1="159.10" y1="127.90" x2="160.60" y2="127.90" stroke="#333" stroke-width="0.6" />
<line x1="156.80" y1="125.80" x2="160.60" y2="125.80" stroke="#1a1a1a" stroke-width="0.9" />
<text x="146.05" y="128.30" font-size="8" fill="#1a1a1a" textLength="8.90" lengthAdjust="spacingAndGlyphs">30</text>
<line x1="160.60" y1="188.70" x2="160.60" y2="192.50" stroke="#1a1a1a" stroke-width="0.9" />
<line x1="167.03" y1="188.70" x2="167.03" y2="190.50" stroke="#1a1a1a" stroke-width="0.7" />
<line x1="170.79" y1="188.70" x2="170.79" y2="190.50" stroke="#1a1a1a" stroke-width="0.7" />
<line x1="173.45" y1="188.70" x2="173.45" y2="190.50" stroke="#1a1a1a" stroke-width="0.7" />
<line x1="175.52" y1="188.70" x2="175.52" y2="191.00" stroke="#1a1a1a" stroke-width="0.7" />
<line x1="177.21" y1="188.70" x2="177.21" y2="190.50" stroke="#1a1a1a" stroke-width="0.7" />
<line x1="178.64" y1="188.70" x2="178.64" y2="190.50" stroke="#1a1a1a" stroke-width="0.7" />
<line x1="179.88" y1="188.70" x2="179.88" y2="190.50" stroke="#1a1a1a" stroke-width="0.7" />
<line x1="180.97" y1="188.70" x2="180.97" y2="190.50" stroke="#1a1a1a" stroke-width="0.7" />
<text x="156.12" y="201.15" font-size="7.5" fill="#1a1a1a">10</text>
<text x="164.62" y="198.40" font-size="5.0" fill="#1a1a1a">0</text>
<line x1="181.95" y1="188.70" x2="181.95" y2="192.50" stroke="#1a1a1a" stroke-width="0.9" />
<line x1="188.38" y1="188.70" x2="188.38" y2="190.50" stroke="#1a1a1a" stroke-width="0.7" />
<line x1="192.14" y1="188.70" x2="192.14" y2="190.50" stroke="#1a1a1a" stroke-width="0.7" />
<line x1="194.80" y1="188.70" x2="194.80" y2="190.50" stroke="#1a1a1a" stroke-width="0.7" />
<line x1="196.87" y1="188.70" x2="196.87" y2="191.00" stroke="#1a1a1a" stroke-width="0.7" />
<line x1="198.56" y1="188.70" x2="198.56" y2="190.50" stroke="#1a1a1a" stroke-width="0.7" />
<line x1="199.99" y1="188.70" x2="199.99" y2="190.50" stroke="#1a1a1a" stroke-width="0.7" />
<line x1="201.23" y1="188.70" x2="201.23" y2="190.50" stroke="#1a1a1a" stroke-width="0.7" />
<line x1="202.32" y1="188.70" x2="202.32" y2="190.50" stroke="#1a1a1a" stroke-width="0.7" />
<text x="177.47" y="201.15" font-size="7.5" fill="#1a1a1a">10</text>
<text x="185.77" y="198.35" font-size="5.0" fill="#1a1a1a">1</text>
<line x1="203.30" y1="188.70" x2="203.30" y2="192.50" stroke="#1a1a1a" stroke-width="0.9" />
<line x1="209.73" y1="188.70" x2="209.73" y2="190.50" stroke="#1a1a1a" stroke-width="0.7" />
<line x1="213.49" y1="188.70" x2="213.49" y2="190.50" stroke="#1a1a1a" stroke-width="0.7" />
<line x1="216.15" y1="188.70" x2="216.15" y2="190.50" stroke="#1a1a1a" stroke-width="0.7" />
<line x1="218.22" y1="188.70" x2="218.22" y2="191.00" stroke="#1a1a1a" stroke-width="0.7" />
<line x1="219.91" y1="188.70" x2="219.91" y2="190.50" stroke="#1a1a1a" stroke-width="0.7" />
<line x1="221.34" y1="188.70" x2="221.34" y2="190.50" stroke="#1a1a1a" stroke-width="0.7" />
<line x1="222.58" y1="188.70" x2="222.58" y2="190.50" stroke="#1a1a1a" stroke-width="0.7" />
<line x1="223.67" y1="188.70" x2="223.67" y2="190.50" stroke="#1a1a1a" stroke-width="0.7" />
<text x="198.83" y="201.15" font-size="7.5" fill="#1a1a1a">10</text>
<text x="207.28" y="198.40" font-size="5.0" fill="#1a1a1a">2</text>
<line x1="224.65" y1="188.70" x2="224.65" y2="192.50" stroke="#1a1a1a" stroke-width="0.9" />
<line x1="231.08" y1="188.70" x2="231.08" y2="190.50" stroke="#1a1a1a" stroke-width="0.7" />
<line x1="234.84" y1="188.70" x2="234.84" y2="190.50" stroke="#1a1a1a" stroke-width="0.7" />
<line x1="237.50" y1="188.70" x2="237.50" y2="190.50" stroke="#1a1a1a" stroke-width="0.7" />
<line x1="239.57" y1="188.70" x2="239.57" y2="191.00" stroke="#1a1a1a" stroke-width="0.7" />
<line x1="241.26" y1="188.70" x2="241.26" y2="190.50" stroke="#1a1a1a" stroke-width="0.7" />
<line x1="242.69" y1="188.70" x2="242.69" y2="190.50" stroke="#1a1a1a" stroke-width="0.7" />
<line x1="243.93" y1="188.70" x2="243.93" y2="190.50" stroke="#1a1a1a" stroke-width="0.7" />
<line x1="245.02" y1="188.70" x2="245.02" y2="190.50" stroke="#1a1a1a" stroke-width="0.7" />
<text x="220.18" y="201.15" font-size="7.5" fill="#1a1a1a">10</text>
<text x="228.68" y="198.40" font-size="5.0" fill="#1a1a1a">3</text>
<line x1="246.00" y1="188.70" x2="246.00" y2="192.50" stroke="#1a1a1a" stroke-width="0.9" />
<text x="241.53" y="201.15" font-size="7.5" fill="#1a1a1a">10</text>
<text x="250.12" y="198.35" font-size="5.0" fill="#1a1a1a">4</text>
<line x1="308.50" y1="26.00" x2="394.20" y2="26.00" stroke="#555" stroke-width="0.9" />
<line x1="394.20" y1="26.00" x2="394.20" y2="90.00" stroke="#555" stroke-width="0.9" />
<polygon points="308.50,90.00 311.00,89.50 313.40,87.80 315.20,86.00 317.00,82.40 318.80,78.80 320.60,75.20 322.40,69.80 323.80,67.10 325.10,68.00 326.50,66.70 327.80,67.60 329.20,66.70 330.10,71.60 331.40,74.30 333.20,75.70 335.00,76.10 336.80,77.90 338.20,80.60 339.50,84.20 340.90,86.90 342.20,88.30 344.00,89.50 344.00,90.00" fill="#6a6a6a" stroke="#6a6a6a" stroke-width="0.6"/>
<polyline points="345.00,89.50 352.30,88.70 354.80,87.40 356.60,83.80 357.80,78.90 359.00,71.60 359.90,64.30 360.90,55.70 361.80,50.90 362.70,48.40 363.50,42.30 364.30,48.40 365.10,52.10 366.00,59.40 367.00,69.10 367.90,77.70 368.80,83.80 370.00,86.20 371.80,86.80 373.70,88.70 375.50,89.60" fill="none" stroke="#4a4a4a" stroke-width="0.95" stroke-dasharray="1,0.75" stroke-linejoin="round"/>
<polyline points="334.00,89.50 341.30,88.30 343.10,85.60 345.00,83.80 346.80,78.90 348.70,74.00 350.50,70.40 352.30,67.90 354.10,66.10 355.40,67.30 356.60,69.80 357.80,74.00 359.00,80.10 360.20,83.80 362.10,86.20 364.50,86.80 367.00,87.40 368.80,86.80 370.60,87.40 372.40,88.70 374.30,89.50" fill="none" stroke="#111" stroke-width="1.1" stroke-linejoin="round"/>
<line x1="308.50" y1="25.70" x2="308.50" y2="90.50" stroke="#1a1a1a" stroke-width="1.1" />
<line x1="308.00" y1="90.00" x2="394.60" y2="90.00" stroke="#1a1a1a" stroke-width="1.1" />
<line x1="304.70" y1="90.00" x2="308.50" y2="90.00" stroke="#1a1a1a" stroke-width="0.9" />
<text x="299.35" y="92.03" font-size="7.2" fill="#1a1a1a" textLength="4.00" lengthAdjust="spacingAndGlyphs">0</text>
<line x1="307.00" y1="88.42" x2="308.50" y2="88.42" stroke="#333" stroke-width="0.6" />
<line x1="307.00" y1="86.85" x2="308.50" y2="86.85" stroke="#333" stroke-width="0.6" />
<line x1="307.00" y1="85.28" x2="308.50" y2="85.28" stroke="#333" stroke-width="0.6" />
<line x1="307.00" y1="83.70" x2="308.50" y2="83.70" stroke="#333" stroke-width="0.6" />
<line x1="305.90" y1="82.12" x2="308.50" y2="82.12" stroke="#1a1a1a" stroke-width="0.8" />
<line x1="307.00" y1="80.55" x2="308.50" y2="80.55" stroke="#333" stroke-width="0.6" />
<line x1="307.00" y1="78.97" x2="308.50" y2="78.97" stroke="#333" stroke-width="0.6" />
<line x1="307.00" y1="77.40" x2="308.50" y2="77.40" stroke="#333" stroke-width="0.6" />
<line x1="307.00" y1="75.83" x2="308.50" y2="75.83" stroke="#333" stroke-width="0.6" />
<line x1="304.70" y1="74.25" x2="308.50" y2="74.25" stroke="#1a1a1a" stroke-width="0.9" />
<text x="295.35" y="76.28" font-size="7.2" fill="#1a1a1a" textLength="8.01" lengthAdjust="spacingAndGlyphs">20</text>
<line x1="307.00" y1="72.67" x2="308.50" y2="72.67" stroke="#333" stroke-width="0.6" />
<line x1="307.00" y1="71.10" x2="308.50" y2="71.10" stroke="#333" stroke-width="0.6" />
<line x1="307.00" y1="69.53" x2="308.50" y2="69.53" stroke="#333" stroke-width="0.6" />
<line x1="307.00" y1="67.95" x2="308.50" y2="67.95" stroke="#333" stroke-width="0.6" />
<line x1="305.90" y1="66.38" x2="308.50" y2="66.38" stroke="#1a1a1a" stroke-width="0.8" />
<line x1="307.00" y1="64.80" x2="308.50" y2="64.80" stroke="#333" stroke-width="0.6" />
<line x1="307.00" y1="63.23" x2="308.50" y2="63.23" stroke="#333" stroke-width="0.6" />
<line x1="307.00" y1="61.65" x2="308.50" y2="61.65" stroke="#333" stroke-width="0.6" />
<line x1="307.00" y1="60.08" x2="308.50" y2="60.08" stroke="#333" stroke-width="0.6" />
<line x1="304.70" y1="58.50" x2="308.50" y2="58.50" stroke="#1a1a1a" stroke-width="0.9" />
<text x="295.35" y="60.52" font-size="7.2" fill="#1a1a1a" textLength="8.01" lengthAdjust="spacingAndGlyphs">40</text>
<line x1="307.00" y1="56.92" x2="308.50" y2="56.92" stroke="#333" stroke-width="0.6" />
<line x1="307.00" y1="55.35" x2="308.50" y2="55.35" stroke="#333" stroke-width="0.6" />
<line x1="307.00" y1="53.77" x2="308.50" y2="53.77" stroke="#333" stroke-width="0.6" />
<line x1="307.00" y1="52.20" x2="308.50" y2="52.20" stroke="#333" stroke-width="0.6" />
<line x1="305.90" y1="50.62" x2="308.50" y2="50.62" stroke="#1a1a1a" stroke-width="0.8" />
<line x1="307.00" y1="49.05" x2="308.50" y2="49.05" stroke="#333" stroke-width="0.6" />
<line x1="307.00" y1="47.48" x2="308.50" y2="47.48" stroke="#333" stroke-width="0.6" />
<line x1="307.00" y1="45.90" x2="308.50" y2="45.90" stroke="#333" stroke-width="0.6" />
<line x1="307.00" y1="44.33" x2="308.50" y2="44.33" stroke="#333" stroke-width="0.6" />
<line x1="304.70" y1="42.75" x2="308.50" y2="42.75" stroke="#1a1a1a" stroke-width="0.9" />
<text x="295.35" y="44.77" font-size="7.2" fill="#1a1a1a" textLength="8.01" lengthAdjust="spacingAndGlyphs">60</text>
<line x1="307.00" y1="41.17" x2="308.50" y2="41.17" stroke="#333" stroke-width="0.6" />
<line x1="307.00" y1="39.60" x2="308.50" y2="39.60" stroke="#333" stroke-width="0.6" />
<line x1="307.00" y1="38.02" x2="308.50" y2="38.02" stroke="#333" stroke-width="0.6" />
<line x1="307.00" y1="36.45" x2="308.50" y2="36.45" stroke="#333" stroke-width="0.6" />
<line x1="305.90" y1="34.88" x2="308.50" y2="34.88" stroke="#1a1a1a" stroke-width="0.8" />
<line x1="307.00" y1="33.30" x2="308.50" y2="33.30" stroke="#333" stroke-width="0.6" />
<line x1="307.00" y1="31.73" x2="308.50" y2="31.73" stroke="#333" stroke-width="0.6" />
<line x1="307.00" y1="30.15" x2="308.50" y2="30.15" stroke="#333" stroke-width="0.6" />
<line x1="307.00" y1="28.58" x2="308.50" y2="28.58" stroke="#333" stroke-width="0.6" />
<line x1="304.70" y1="27.00" x2="308.50" y2="27.00" stroke="#1a1a1a" stroke-width="0.9" />
<text x="295.35" y="29.02" font-size="7.2" fill="#1a1a1a" textLength="8.01" lengthAdjust="spacingAndGlyphs">80</text>
<line x1="308.50" y1="90.00" x2="308.50" y2="93.80" stroke="#1a1a1a" stroke-width="0.9" />
<line x1="314.94" y1="90.00" x2="314.94" y2="91.80" stroke="#1a1a1a" stroke-width="0.7" />
<line x1="318.71" y1="90.00" x2="318.71" y2="91.80" stroke="#1a1a1a" stroke-width="0.7" />
<line x1="321.38" y1="90.00" x2="321.38" y2="91.80" stroke="#1a1a1a" stroke-width="0.7" />
<line x1="323.46" y1="90.00" x2="323.46" y2="92.30" stroke="#1a1a1a" stroke-width="0.7" />
<line x1="325.15" y1="90.00" x2="325.15" y2="91.80" stroke="#1a1a1a" stroke-width="0.7" />
<line x1="326.59" y1="90.00" x2="326.59" y2="91.80" stroke="#1a1a1a" stroke-width="0.7" />
<line x1="327.83" y1="90.00" x2="327.83" y2="91.80" stroke="#1a1a1a" stroke-width="0.7" />
<line x1="328.92" y1="90.00" x2="328.92" y2="91.80" stroke="#1a1a1a" stroke-width="0.7" />
<text x="304.02" y="102.45" font-size="7.5" fill="#1a1a1a">10</text>
<text x="312.52" y="99.70" font-size="5.0" fill="#1a1a1a">0</text>
<line x1="329.90" y1="90.00" x2="329.90" y2="93.80" stroke="#1a1a1a" stroke-width="0.9" />
<line x1="336.34" y1="90.00" x2="336.34" y2="91.80" stroke="#1a1a1a" stroke-width="0.7" />
<line x1="340.11" y1="90.00" x2="340.11" y2="91.80" stroke="#1a1a1a" stroke-width="0.7" />
<line x1="342.78" y1="90.00" x2="342.78" y2="91.80" stroke="#1a1a1a" stroke-width="0.7" />
<line x1="344.86" y1="90.00" x2="344.86" y2="92.30" stroke="#1a1a1a" stroke-width="0.7" />
<line x1="346.55" y1="90.00" x2="346.55" y2="91.80" stroke="#1a1a1a" stroke-width="0.7" />
<line x1="347.99" y1="90.00" x2="347.99" y2="91.80" stroke="#1a1a1a" stroke-width="0.7" />
<line x1="349.23" y1="90.00" x2="349.23" y2="91.80" stroke="#1a1a1a" stroke-width="0.7" />
<line x1="350.32" y1="90.00" x2="350.32" y2="91.80" stroke="#1a1a1a" stroke-width="0.7" />
<text x="325.42" y="102.45" font-size="7.5" fill="#1a1a1a">10</text>
<text x="333.72" y="99.65" font-size="5.0" fill="#1a1a1a">1</text>
<line x1="351.30" y1="90.00" x2="351.30" y2="93.80" stroke="#1a1a1a" stroke-width="0.9" />
<line x1="357.74" y1="90.00" x2="357.74" y2="91.80" stroke="#1a1a1a" stroke-width="0.7" />
<line x1="361.51" y1="90.00" x2="361.51" y2="91.80" stroke="#1a1a1a" stroke-width="0.7" />
<line x1="364.18" y1="90.00" x2="364.18" y2="91.80" stroke="#1a1a1a" stroke-width="0.7" />
<line x1="366.26" y1="90.00" x2="366.26" y2="92.30" stroke="#1a1a1a" stroke-width="0.7" />
<line x1="367.95" y1="90.00" x2="367.95" y2="91.80" stroke="#1a1a1a" stroke-width="0.7" />
<line x1="369.39" y1="90.00" x2="369.39" y2="91.80" stroke="#1a1a1a" stroke-width="0.7" />
<line x1="370.63" y1="90.00" x2="370.63" y2="91.80" stroke="#1a1a1a" stroke-width="0.7" />
<line x1="371.72" y1="90.00" x2="371.72" y2="91.80" stroke="#1a1a1a" stroke-width="0.7" />
<text x="346.82" y="102.45" font-size="7.5" fill="#1a1a1a">10</text>
<text x="355.27" y="99.70" font-size="5.0" fill="#1a1a1a">2</text>
<line x1="372.70" y1="90.00" x2="372.70" y2="93.80" stroke="#1a1a1a" stroke-width="0.9" />
<line x1="379.14" y1="90.00" x2="379.14" y2="91.80" stroke="#1a1a1a" stroke-width="0.7" />
<line x1="382.91" y1="90.00" x2="382.91" y2="91.80" stroke="#1a1a1a" stroke-width="0.7" />
<line x1="385.58" y1="90.00" x2="385.58" y2="91.80" stroke="#1a1a1a" stroke-width="0.7" />
<line x1="387.66" y1="90.00" x2="387.66" y2="92.30" stroke="#1a1a1a" stroke-width="0.7" />
<line x1="389.35" y1="90.00" x2="389.35" y2="91.80" stroke="#1a1a1a" stroke-width="0.7" />
<line x1="390.79" y1="90.00" x2="390.79" y2="91.80" stroke="#1a1a1a" stroke-width="0.7" />
<line x1="392.03" y1="90.00" x2="392.03" y2="91.80" stroke="#1a1a1a" stroke-width="0.7" />
<line x1="393.12" y1="90.00" x2="393.12" y2="91.80" stroke="#1a1a1a" stroke-width="0.7" />
<text x="368.23" y="102.45" font-size="7.5" fill="#1a1a1a">10</text>
<text x="376.73" y="99.70" font-size="5.0" fill="#1a1a1a">3</text>
<line x1="394.10" y1="90.00" x2="394.10" y2="93.80" stroke="#1a1a1a" stroke-width="0.9" />
<text x="389.62" y="102.45" font-size="7.5" fill="#1a1a1a">10</text>
<text x="398.22" y="99.65" font-size="5.0" fill="#1a1a1a">4</text>
<text x="289.60" y="71.22" font-size="7.6" fill="#1a1a1a" textLength="25.06" lengthAdjust="spacingAndGlyphs" transform="rotate(-90 289.60 71.22)" dx="0">Counts</text>
<line x1="428.00" y1="26.00" x2="513.80" y2="26.00" stroke="#555" stroke-width="0.9" />
<line x1="513.80" y1="26.00" x2="513.80" y2="90.00" stroke="#555" stroke-width="0.9" />
<polygon points="428.00,90.00 434.00,89.60 438.00,89.00 439.10,88.40 440.00,89.00 442.50,87.90 444.70,85.70 446.40,82.30 448.00,76.70 449.70,70.10 450.80,62.30 451.90,58.40 453.10,55.00 454.70,52.20 455.80,52.80 457.00,55.60 458.60,58.90 460.30,62.30 462.00,63.40 463.60,66.70 465.30,72.30 466.40,76.70 467.50,81.20 469.20,84.50 470.90,87.30 472.50,88.40 475.00,89.60 475.00,90.00" fill="#6a6a6a" stroke="#6a6a6a" stroke-width="0.6"/>
<polyline points="462.00,89.50 464.70,86.80 466.40,82.30 468.10,75.60 469.50,70.10 471.10,65.60 472.80,61.20 474.50,56.10 476.10,53.90 477.80,55.60 479.50,57.30 481.10,62.30 482.80,67.80 484.50,73.40 486.20,77.90 487.80,82.30 489.50,85.70 491.70,87.30 494.00,87.90 495.60,89.00 497.00,89.60" fill="none" stroke="#4a4a4a" stroke-width="0.95" stroke-dasharray="1,0.75" stroke-linejoin="round"/>
<polyline points="450.00,89.50 453.60,89.00 458.10,86.80 460.30,83.40 462.00,77.90 463.60,72.30 465.30,67.80 466.40,65.60 467.50,63.40 468.60,58.90 469.80,56.70 470.60,55.00 471.70,56.10 473.40,58.40 475.00,60.60 476.10,63.40 477.80,67.80 479.50,71.20 481.10,75.60 482.80,80.10 484.50,83.40 486.20,86.20 488.40,87.90 491.70,88.80 495.10,89.50" fill="none" stroke="#111" stroke-width="1.1" stroke-linejoin="round"/>
<line x1="428.00" y1="25.70" x2="428.00" y2="90.50" stroke="#1a1a1a" stroke-width="1.1" />
<line x1="427.50" y1="90.00" x2="514.20" y2="90.00" stroke="#1a1a1a" stroke-width="1.1" />
<line x1="424.20" y1="90.00" x2="428.00" y2="90.00" stroke="#1a1a1a" stroke-width="0.9" />
<text x="417.95" y="92.15" font-size="7.0" fill="#1a1a1a" textLength="3.89" lengthAdjust="spacingAndGlyphs">0</text>
<line x1="426.50" y1="87.90" x2="428.00" y2="87.90" stroke="#333" stroke-width="0.6" />
<line x1="426.50" y1="85.81" x2="428.00" y2="85.81" stroke="#333" stroke-width="0.6" />
<line x1="426.50" y1="83.71" x2="428.00" y2="83.71" stroke="#333" stroke-width="0.6" />
<line x1="426.50" y1="81.61" x2="428.00" y2="81.61" stroke="#333" stroke-width="0.6" />
<line x1="425.40" y1="79.52" x2="428.00" y2="79.52" stroke="#1a1a1a" stroke-width="0.8" />
<line x1="426.50" y1="77.42" x2="428.00" y2="77.42" stroke="#333" stroke-width="0.6" />
<line x1="426.50" y1="75.32" x2="428.00" y2="75.32" stroke="#333" stroke-width="0.6" />
<line x1="426.50" y1="73.23" x2="428.00" y2="73.23" stroke="#333" stroke-width="0.6" />
<line x1="426.50" y1="71.13" x2="428.00" y2="71.13" stroke="#333" stroke-width="0.6" />
<line x1="424.20" y1="69.03" x2="428.00" y2="69.03" stroke="#1a1a1a" stroke-width="0.9" />
<text x="414.05" y="71.18" font-size="7.0" fill="#1a1a1a" textLength="7.79" lengthAdjust="spacingAndGlyphs">20</text>
<line x1="426.50" y1="66.94" x2="428.00" y2="66.94" stroke="#333" stroke-width="0.6" />
<line x1="426.50" y1="64.84" x2="428.00" y2="64.84" stroke="#333" stroke-width="0.6" />
<line x1="426.50" y1="62.74" x2="428.00" y2="62.74" stroke="#333" stroke-width="0.6" />
<line x1="426.50" y1="60.65" x2="428.00" y2="60.65" stroke="#333" stroke-width="0.6" />
<line x1="425.40" y1="58.55" x2="428.00" y2="58.55" stroke="#1a1a1a" stroke-width="0.8" />
<line x1="426.50" y1="56.45" x2="428.00" y2="56.45" stroke="#333" stroke-width="0.6" />
<line x1="426.50" y1="54.36" x2="428.00" y2="54.36" stroke="#333" stroke-width="0.6" />
<line x1="426.50" y1="52.26" x2="428.00" y2="52.26" stroke="#333" stroke-width="0.6" />
<line x1="426.50" y1="50.16" x2="428.00" y2="50.16" stroke="#333" stroke-width="0.6" />
<line x1="424.20" y1="48.07" x2="428.00" y2="48.07" stroke="#1a1a1a" stroke-width="0.9" />
<text x="414.05" y="50.22" font-size="7.0" fill="#1a1a1a" textLength="7.79" lengthAdjust="spacingAndGlyphs">40</text>
<line x1="426.50" y1="45.97" x2="428.00" y2="45.97" stroke="#333" stroke-width="0.6" />
<line x1="426.50" y1="43.87" x2="428.00" y2="43.87" stroke="#333" stroke-width="0.6" />
<line x1="426.50" y1="41.78" x2="428.00" y2="41.78" stroke="#333" stroke-width="0.6" />
<line x1="426.50" y1="39.68" x2="428.00" y2="39.68" stroke="#333" stroke-width="0.6" />
<line x1="425.40" y1="37.58" x2="428.00" y2="37.58" stroke="#1a1a1a" stroke-width="0.8" />
<line x1="426.50" y1="35.49" x2="428.00" y2="35.49" stroke="#333" stroke-width="0.6" />
<line x1="426.50" y1="33.39" x2="428.00" y2="33.39" stroke="#333" stroke-width="0.6" />
<line x1="426.50" y1="31.29" x2="428.00" y2="31.29" stroke="#333" stroke-width="0.6" />
<line x1="426.50" y1="29.20" x2="428.00" y2="29.20" stroke="#333" stroke-width="0.6" />
<line x1="424.20" y1="27.10" x2="428.00" y2="27.10" stroke="#1a1a1a" stroke-width="0.9" />
<text x="414.05" y="29.25" font-size="7.0" fill="#1a1a1a" textLength="7.79" lengthAdjust="spacingAndGlyphs">60</text>
<line x1="428.00" y1="90.00" x2="428.00" y2="93.80" stroke="#1a1a1a" stroke-width="0.9" />
<line x1="434.44" y1="90.00" x2="434.44" y2="91.80" stroke="#1a1a1a" stroke-width="0.7" />
<line x1="438.21" y1="90.00" x2="438.21" y2="91.80" stroke="#1a1a1a" stroke-width="0.7" />
<line x1="440.88" y1="90.00" x2="440.88" y2="91.80" stroke="#1a1a1a" stroke-width="0.7" />
<line x1="442.96" y1="90.00" x2="442.96" y2="92.30" stroke="#1a1a1a" stroke-width="0.7" />
<line x1="444.65" y1="90.00" x2="444.65" y2="91.80" stroke="#1a1a1a" stroke-width="0.7" />
<line x1="446.09" y1="90.00" x2="446.09" y2="91.80" stroke="#1a1a1a" stroke-width="0.7" />
<line x1="447.33" y1="90.00" x2="447.33" y2="91.80" stroke="#1a1a1a" stroke-width="0.7" />
<line x1="448.42" y1="90.00" x2="448.42" y2="91.80" stroke="#1a1a1a" stroke-width="0.7" />
<text x="423.52" y="102.45" font-size="7.5" fill="#1a1a1a">10</text>
<text x="432.02" y="99.70" font-size="5.0" fill="#1a1a1a">0</text>
<line x1="449.40" y1="90.00" x2="449.40" y2="93.80" stroke="#1a1a1a" stroke-width="0.9" />
<line x1="455.84" y1="90.00" x2="455.84" y2="91.80" stroke="#1a1a1a" stroke-width="0.7" />
<line x1="459.61" y1="90.00" x2="459.61" y2="91.80" stroke="#1a1a1a" stroke-width="0.7" />
<line x1="462.28" y1="90.00" x2="462.28" y2="91.80" stroke="#1a1a1a" stroke-width="0.7" />
<line x1="464.36" y1="90.00" x2="464.36" y2="92.30" stroke="#1a1a1a" stroke-width="0.7" />
<line x1="466.05" y1="90.00" x2="466.05" y2="91.80" stroke="#1a1a1a" stroke-width="0.7" />
<line x1="467.49" y1="90.00" x2="467.49" y2="91.80" stroke="#1a1a1a" stroke-width="0.7" />
<line x1="468.73" y1="90.00" x2="468.73" y2="91.80" stroke="#1a1a1a" stroke-width="0.7" />
<line x1="469.82" y1="90.00" x2="469.82" y2="91.80" stroke="#1a1a1a" stroke-width="0.7" />
<text x="444.92" y="102.45" font-size="7.5" fill="#1a1a1a">10</text>
<text x="453.22" y="99.65" font-size="5.0" fill="#1a1a1a">1</text>
<line x1="470.80" y1="90.00" x2="470.80" y2="93.80" stroke="#1a1a1a" stroke-width="0.9" />
<line x1="477.24" y1="90.00" x2="477.24" y2="91.80" stroke="#1a1a1a" stroke-width="0.7" />
<line x1="481.01" y1="90.00" x2="481.01" y2="91.80" stroke="#1a1a1a" stroke-width="0.7" />
<line x1="483.68" y1="90.00" x2="483.68" y2="91.80" stroke="#1a1a1a" stroke-width="0.7" />
<line x1="485.76" y1="90.00" x2="485.76" y2="92.30" stroke="#1a1a1a" stroke-width="0.7" />
<line x1="487.45" y1="90.00" x2="487.45" y2="91.80" stroke="#1a1a1a" stroke-width="0.7" />
<line x1="488.89" y1="90.00" x2="488.89" y2="91.80" stroke="#1a1a1a" stroke-width="0.7" />
<line x1="490.13" y1="90.00" x2="490.13" y2="91.80" stroke="#1a1a1a" stroke-width="0.7" />
<line x1="491.22" y1="90.00" x2="491.22" y2="91.80" stroke="#1a1a1a" stroke-width="0.7" />
<text x="466.32" y="102.45" font-size="7.5" fill="#1a1a1a">10</text>
<text x="474.77" y="99.70" font-size="5.0" fill="#1a1a1a">2</text>
<line x1="492.20" y1="90.00" x2="492.20" y2="93.80" stroke="#1a1a1a" stroke-width="0.9" />
<line x1="498.64" y1="90.00" x2="498.64" y2="91.80" stroke="#1a1a1a" stroke-width="0.7" />
<line x1="502.41" y1="90.00" x2="502.41" y2="91.80" stroke="#1a1a1a" stroke-width="0.7" />
<line x1="505.08" y1="90.00" x2="505.08" y2="91.80" stroke="#1a1a1a" stroke-width="0.7" />
<line x1="507.16" y1="90.00" x2="507.16" y2="92.30" stroke="#1a1a1a" stroke-width="0.7" />
<line x1="508.85" y1="90.00" x2="508.85" y2="91.80" stroke="#1a1a1a" stroke-width="0.7" />
<line x1="510.29" y1="90.00" x2="510.29" y2="91.80" stroke="#1a1a1a" stroke-width="0.7" />
<line x1="511.53" y1="90.00" x2="511.53" y2="91.80" stroke="#1a1a1a" stroke-width="0.7" />
<line x1="512.62" y1="90.00" x2="512.62" y2="91.80" stroke="#1a1a1a" stroke-width="0.7" />
<text x="487.73" y="102.45" font-size="7.5" fill="#1a1a1a">10</text>
<text x="496.23" y="99.70" font-size="5.0" fill="#1a1a1a">3</text>
<line x1="513.60" y1="90.00" x2="513.60" y2="93.80" stroke="#1a1a1a" stroke-width="0.9" />
<text x="509.12" y="102.45" font-size="7.5" fill="#1a1a1a">10</text>
<text x="517.73" y="99.65" font-size="5.0" fill="#1a1a1a">4</text>
<line x1="307.90" y1="165.80" x2="393.70" y2="165.80" stroke="#555" stroke-width="0.9" />
<line x1="393.70" y1="165.80" x2="393.70" y2="230.00" stroke="#555" stroke-width="0.9" />
<polyline points="330.00,229.50 334.60,227.40 337.10,225.00 338.90,218.90 340.10,211.60 341.30,201.80 342.60,192.10 343.80,187.20 345.00,183.50 346.20,192.10 347.40,199.40 349.30,210.40 350.50,217.70 352.30,223.80 354.10,226.80 357.00,228.50 362.00,229.50" fill="none" stroke="#4a4a4a" stroke-width="1.0" stroke-dasharray="1,0.75" stroke-linejoin="round"/>
<polyline points="312.00,229.50 320.00,228.70 324.90,228.00 328.50,226.80 331.00,223.80 332.80,220.10 334.60,214.00 336.50,204.30 338.30,197.00 340.10,192.10 342.00,187.20 343.20,185.40 344.40,187.20 345.60,192.10 346.80,199.40 348.70,210.40 350.50,217.70 352.30,223.20 354.10,226.20 356.60,227.70 360.20,228.40 370.00,229.30" fill="none" stroke="#111" stroke-width="1.1" stroke-linejoin="round"/>
<line x1="307.90" y1="165.50" x2="307.90" y2="230.50" stroke="#1a1a1a" stroke-width="1.1" />
<line x1="307.40" y1="230.00" x2="394.10" y2="230.00" stroke="#1a1a1a" stroke-width="1.1" />
<line x1="304.10" y1="230.00" x2="307.90" y2="230.00" stroke="#1a1a1a" stroke-width="0.9" />
<text x="298.60" y="232.50" font-size="8" fill="#1a1a1a" textLength="4.45" lengthAdjust="spacingAndGlyphs">0</text>
<line x1="306.40" y1="227.88" x2="307.90" y2="227.88" stroke="#333" stroke-width="0.6" />
<line x1="306.40" y1="225.77" x2="307.90" y2="225.77" stroke="#333" stroke-width="0.6" />
<line x1="306.40" y1="223.65" x2="307.90" y2="223.65" stroke="#333" stroke-width="0.6" />
<line x1="306.40" y1="221.53" x2="307.90" y2="221.53" stroke="#333" stroke-width="0.6" />
<line x1="305.30" y1="219.42" x2="307.90" y2="219.42" stroke="#1a1a1a" stroke-width="0.8" />
<line x1="306.40" y1="217.30" x2="307.90" y2="217.30" stroke="#333" stroke-width="0.6" />
<line x1="306.40" y1="215.18" x2="307.90" y2="215.18" stroke="#333" stroke-width="0.6" />
<line x1="306.40" y1="213.07" x2="307.90" y2="213.07" stroke="#333" stroke-width="0.6" />
<line x1="306.40" y1="210.95" x2="307.90" y2="210.95" stroke="#333" stroke-width="0.6" />
<line x1="304.10" y1="208.83" x2="307.90" y2="208.83" stroke="#1a1a1a" stroke-width="0.9" />
<text x="294.15" y="211.33" font-size="8" fill="#1a1a1a" textLength="8.90" lengthAdjust="spacingAndGlyphs">40</text>
<line x1="306.40" y1="206.72" x2="307.90" y2="206.72" stroke="#333" stroke-width="0.6" />
<line x1="306.40" y1="204.60" x2="307.90" y2="204.60" stroke="#333" stroke-width="0.6" />
<line x1="306.40" y1="202.48" x2="307.90" y2="202.48" stroke="#333" stroke-width="0.6" />
<line x1="306.40" y1="200.37" x2="307.90" y2="200.37" stroke="#333" stroke-width="0.6" />
<line x1="305.30" y1="198.25" x2="307.90" y2="198.25" stroke="#1a1a1a" stroke-width="0.8" />
<line x1="306.40" y1="196.13" x2="307.90" y2="196.13" stroke="#333" stroke-width="0.6" />
<line x1="306.40" y1="194.02" x2="307.90" y2="194.02" stroke="#333" stroke-width="0.6" />
<line x1="306.40" y1="191.90" x2="307.90" y2="191.90" stroke="#333" stroke-width="0.6" />
<line x1="306.40" y1="189.78" x2="307.90" y2="189.78" stroke="#333" stroke-width="0.6" />
<line x1="304.10" y1="187.67" x2="307.90" y2="187.67" stroke="#1a1a1a" stroke-width="0.9" />
<text x="294.15" y="190.17" font-size="8" fill="#1a1a1a" textLength="8.90" lengthAdjust="spacingAndGlyphs">80</text>
<line x1="306.40" y1="185.55" x2="307.90" y2="185.55" stroke="#333" stroke-width="0.6" />
<line x1="306.40" y1="183.43" x2="307.90" y2="183.43" stroke="#333" stroke-width="0.6" />
<line x1="306.40" y1="181.32" x2="307.90" y2="181.32" stroke="#333" stroke-width="0.6" />
<line x1="306.40" y1="179.20" x2="307.90" y2="179.20" stroke="#333" stroke-width="0.6" />
<line x1="305.30" y1="177.08" x2="307.90" y2="177.08" stroke="#1a1a1a" stroke-width="0.8" />
<line x1="306.40" y1="174.97" x2="307.90" y2="174.97" stroke="#333" stroke-width="0.6" />
<line x1="306.40" y1="172.85" x2="307.90" y2="172.85" stroke="#333" stroke-width="0.6" />
<line x1="306.40" y1="170.73" x2="307.90" y2="170.73" stroke="#333" stroke-width="0.6" />
<line x1="306.40" y1="168.62" x2="307.90" y2="168.62" stroke="#333" stroke-width="0.6" />
<line x1="304.10" y1="166.50" x2="307.90" y2="166.50" stroke="#1a1a1a" stroke-width="0.9" />
<text x="289.70" y="169.00" font-size="8" fill="#1a1a1a" textLength="13.35" lengthAdjust="spacingAndGlyphs">120</text>
<line x1="307.90" y1="230.00" x2="307.90" y2="233.80" stroke="#1a1a1a" stroke-width="0.9" />
<line x1="314.28" y1="230.00" x2="314.28" y2="231.80" stroke="#1a1a1a" stroke-width="0.7" />
<line x1="318.01" y1="230.00" x2="318.01" y2="231.80" stroke="#1a1a1a" stroke-width="0.7" />
<line x1="320.66" y1="230.00" x2="320.66" y2="231.80" stroke="#1a1a1a" stroke-width="0.7" />
<line x1="322.72" y1="230.00" x2="322.72" y2="232.30" stroke="#1a1a1a" stroke-width="0.7" />
<line x1="324.40" y1="230.00" x2="324.40" y2="231.80" stroke="#1a1a1a" stroke-width="0.7" />
<line x1="325.82" y1="230.00" x2="325.82" y2="231.80" stroke="#1a1a1a" stroke-width="0.7" />
<line x1="327.05" y1="230.00" x2="327.05" y2="231.80" stroke="#1a1a1a" stroke-width="0.7" />
<line x1="328.13" y1="230.00" x2="328.13" y2="231.80" stroke="#1a1a1a" stroke-width="0.7" />
<text x="303.42" y="242.45" font-size="7.5" fill="#1a1a1a">10</text>
<text x="311.92" y="239.70" font-size="5.0" fill="#1a1a1a">0</text>
<line x1="329.10" y1="230.00" x2="329.10" y2="233.80" stroke="#1a1a1a" stroke-width="0.9" />
<line x1="335.48" y1="230.00" x2="335.48" y2="231.80" stroke="#1a1a1a" stroke-width="0.7" />
<line x1="339.21" y1="230.00" x2="339.21" y2="231.80" stroke="#1a1a1a" stroke-width="0.7" />
<line x1="341.86" y1="230.00" x2="341.86" y2="231.80" stroke="#1a1a1a" stroke-width="0.7" />
<line x1="343.92" y1="230.00" x2="343.92" y2="232.30" stroke="#1a1a1a" stroke-width="0.7" />
<line x1="345.60" y1="230.00" x2="345.60" y2="231.80" stroke="#1a1a1a" stroke-width="0.7" />
<line x1="347.02" y1="230.00" x2="347.02" y2="231.80" stroke="#1a1a1a" stroke-width="0.7" />
<line x1="348.25" y1="230.00" x2="348.25" y2="231.80" stroke="#1a1a1a" stroke-width="0.7" />
<line x1="349.33" y1="230.00" x2="349.33" y2="231.80" stroke="#1a1a1a" stroke-width="0.7" />
<text x="324.62" y="242.45" font-size="7.5" fill="#1a1a1a">10</text>
<text x="332.92" y="239.65" font-size="5.0" fill="#1a1a1a">1</text>
<line x1="350.30" y1="230.00" x2="350.30" y2="233.80" stroke="#1a1a1a" stroke-width="0.9" />
<line x1="356.68" y1="230.00" x2="356.68" y2="231.80" stroke="#1a1a1a" stroke-width="0.7" />
<line x1="360.41" y1="230.00" x2="360.41" y2="231.80" stroke="#1a1a1a" stroke-width="0.7" />
<line x1="363.06" y1="230.00" x2="363.06" y2="231.80" stroke="#1a1a1a" stroke-width="0.7" />
<line x1="365.12" y1="230.00" x2="365.12" y2="232.30" stroke="#1a1a1a" stroke-width="0.7" />
<line x1="366.80" y1="230.00" x2="366.80" y2="231.80" stroke="#1a1a1a" stroke-width="0.7" />
<line x1="368.22" y1="230.00" x2="368.22" y2="231.80" stroke="#1a1a1a" stroke-width="0.7" />
<line x1="369.45" y1="230.00" x2="369.45" y2="231.80" stroke="#1a1a1a" stroke-width="0.7" />
<line x1="370.53" y1="230.00" x2="370.53" y2="231.80" stroke="#1a1a1a" stroke-width="0.7" />
<text x="345.82" y="242.45" font-size="7.5" fill="#1a1a1a">10</text>
<text x="354.27" y="239.70" font-size="5.0" fill="#1a1a1a">2</text>
<line x1="371.50" y1="230.00" x2="371.50" y2="233.80" stroke="#1a1a1a" stroke-width="0.9" />
<line x1="377.88" y1="230.00" x2="377.88" y2="231.80" stroke="#1a1a1a" stroke-width="0.7" />
<line x1="381.61" y1="230.00" x2="381.61" y2="231.80" stroke="#1a1a1a" stroke-width="0.7" />
<line x1="384.26" y1="230.00" x2="384.26" y2="231.80" stroke="#1a1a1a" stroke-width="0.7" />
<line x1="386.32" y1="230.00" x2="386.32" y2="232.30" stroke="#1a1a1a" stroke-width="0.7" />
<line x1="388.00" y1="230.00" x2="388.00" y2="231.80" stroke="#1a1a1a" stroke-width="0.7" />
<line x1="389.42" y1="230.00" x2="389.42" y2="231.80" stroke="#1a1a1a" stroke-width="0.7" />
<line x1="390.65" y1="230.00" x2="390.65" y2="231.80" stroke="#1a1a1a" stroke-width="0.7" />
<line x1="391.73" y1="230.00" x2="391.73" y2="231.80" stroke="#1a1a1a" stroke-width="0.7" />
<text x="367.02" y="242.45" font-size="7.5" fill="#1a1a1a">10</text>
<text x="375.52" y="239.70" font-size="5.0" fill="#1a1a1a">3</text>
<line x1="392.70" y1="230.00" x2="392.70" y2="233.80" stroke="#1a1a1a" stroke-width="0.9" />
<text x="388.22" y="242.45" font-size="7.5" fill="#1a1a1a">10</text>
<text x="396.82" y="239.65" font-size="5.0" fill="#1a1a1a">4</text>
<text x="289.00" y="209.32" font-size="7.6" fill="#1a1a1a" textLength="25.58" lengthAdjust="spacingAndGlyphs" transform="rotate(-90 289.00 209.32)" dx="0">Counts</text>
<line x1="427.90" y1="165.80" x2="513.50" y2="165.80" stroke="#555" stroke-width="0.9" />
<line x1="513.50" y1="165.80" x2="513.50" y2="230.00" stroke="#555" stroke-width="0.9" />
<polyline points="452.00,229.50 457.00,227.00 460.10,221.70 462.40,207.80 463.90,195.50 465.50,181.60 466.50,170.80 467.50,166.90 468.50,173.90 469.60,181.60 470.90,190.90 472.40,204.80 474.00,215.60 476.30,223.30 480.00,227.50 486.00,229.30" fill="none" stroke="#4a4a4a" stroke-width="1.0" stroke-dasharray="1,0.75" stroke-linejoin="round"/>
<polyline points="445.00,229.50 452.30,227.90 457.00,225.60 459.30,221.70 461.60,212.50 463.10,204.80 464.70,194.00 465.90,186.50 466.60,183.60 469.30,183.40 470.10,187.00 471.60,197.00 473.20,207.80 474.70,217.10 477.00,224.00 480.10,227.10 484.80,229.00 490.00,229.50" fill="none" stroke="#111" stroke-width="1.1" stroke-linejoin="round"/>
<line x1="427.90" y1="165.50" x2="427.90" y2="230.50" stroke="#1a1a1a" stroke-width="1.1" />
<line x1="427.40" y1="230.00" x2="513.90" y2="230.00" stroke="#1a1a1a" stroke-width="1.1" />
<line x1="424.10" y1="230.00" x2="427.90" y2="230.00" stroke="#1a1a1a" stroke-width="0.9" />
<text x="418.50" y="232.50" font-size="8" fill="#1a1a1a" textLength="4.45" lengthAdjust="spacingAndGlyphs">0</text>
<line x1="426.40" y1="227.88" x2="427.90" y2="227.88" stroke="#333" stroke-width="0.6" />
<line x1="426.40" y1="225.77" x2="427.90" y2="225.77" stroke="#333" stroke-width="0.6" />
<line x1="426.40" y1="223.65" x2="427.90" y2="223.65" stroke="#333" stroke-width="0.6" />
<line x1="426.40" y1="221.53" x2="427.90" y2="221.53" stroke="#333" stroke-width="0.6" />
<line x1="425.30" y1="219.42" x2="427.90" y2="219.42" stroke="#1a1a1a" stroke-width="0.8" />
<line x1="426.40" y1="217.30" x2="427.90" y2="217.30" stroke="#333" stroke-width="0.6" />
<line x1="426.40" y1="215.18" x2="427.90" y2="215.18" stroke="#333" stroke-width="0.6" />
<line x1="426.40" y1="213.07" x2="427.90" y2="213.07" stroke="#333" stroke-width="0.6" />
<line x1="426.40" y1="210.95" x2="427.90" y2="210.95" stroke="#333" stroke-width="0.6" />
<line x1="424.10" y1="208.83" x2="427.90" y2="208.83" stroke="#1a1a1a" stroke-width="0.9" />
<text x="414.05" y="211.33" font-size="8" fill="#1a1a1a" textLength="8.90" lengthAdjust="spacingAndGlyphs">40</text>
<line x1="426.40" y1="206.72" x2="427.90" y2="206.72" stroke="#333" stroke-width="0.6" />
<line x1="426.40" y1="204.60" x2="427.90" y2="204.60" stroke="#333" stroke-width="0.6" />
<line x1="426.40" y1="202.48" x2="427.90" y2="202.48" stroke="#333" stroke-width="0.6" />
<line x1="426.40" y1="200.37" x2="427.90" y2="200.37" stroke="#333" stroke-width="0.6" />
<line x1="425.30" y1="198.25" x2="427.90" y2="198.25" stroke="#1a1a1a" stroke-width="0.8" />
<line x1="426.40" y1="196.13" x2="427.90" y2="196.13" stroke="#333" stroke-width="0.6" />
<line x1="426.40" y1="194.02" x2="427.90" y2="194.02" stroke="#333" stroke-width="0.6" />
<line x1="426.40" y1="191.90" x2="427.90" y2="191.90" stroke="#333" stroke-width="0.6" />
<line x1="426.40" y1="189.78" x2="427.90" y2="189.78" stroke="#333" stroke-width="0.6" />
<line x1="424.10" y1="187.67" x2="427.90" y2="187.67" stroke="#1a1a1a" stroke-width="0.9" />
<text x="414.05" y="190.17" font-size="8" fill="#1a1a1a" textLength="8.90" lengthAdjust="spacingAndGlyphs">80</text>
<line x1="426.40" y1="185.55" x2="427.90" y2="185.55" stroke="#333" stroke-width="0.6" />
<line x1="426.40" y1="183.43" x2="427.90" y2="183.43" stroke="#333" stroke-width="0.6" />
<line x1="426.40" y1="181.32" x2="427.90" y2="181.32" stroke="#333" stroke-width="0.6" />
<line x1="426.40" y1="179.20" x2="427.90" y2="179.20" stroke="#333" stroke-width="0.6" />
<line x1="425.30" y1="177.08" x2="427.90" y2="177.08" stroke="#1a1a1a" stroke-width="0.8" />
<line x1="426.40" y1="174.97" x2="427.90" y2="174.97" stroke="#333" stroke-width="0.6" />
<line x1="426.40" y1="172.85" x2="427.90" y2="172.85" stroke="#333" stroke-width="0.6" />
<line x1="426.40" y1="170.73" x2="427.90" y2="170.73" stroke="#333" stroke-width="0.6" />
<line x1="426.40" y1="168.62" x2="427.90" y2="168.62" stroke="#333" stroke-width="0.6" />
<line x1="424.10" y1="166.50" x2="427.90" y2="166.50" stroke="#1a1a1a" stroke-width="0.9" />
<text x="409.60" y="169.00" font-size="8" fill="#1a1a1a" textLength="13.35" lengthAdjust="spacingAndGlyphs">120</text>
<line x1="427.90" y1="230.00" x2="427.90" y2="233.80" stroke="#1a1a1a" stroke-width="0.9" />
<line x1="434.27" y1="230.00" x2="434.27" y2="231.80" stroke="#1a1a1a" stroke-width="0.7" />
<line x1="437.99" y1="230.00" x2="437.99" y2="231.80" stroke="#1a1a1a" stroke-width="0.7" />
<line x1="440.63" y1="230.00" x2="440.63" y2="231.80" stroke="#1a1a1a" stroke-width="0.7" />
<line x1="442.68" y1="230.00" x2="442.68" y2="232.30" stroke="#1a1a1a" stroke-width="0.7" />
<line x1="444.36" y1="230.00" x2="444.36" y2="231.80" stroke="#1a1a1a" stroke-width="0.7" />
<line x1="445.77" y1="230.00" x2="445.77" y2="231.80" stroke="#1a1a1a" stroke-width="0.7" />
<line x1="447.00" y1="230.00" x2="447.00" y2="231.80" stroke="#1a1a1a" stroke-width="0.7" />
<line x1="448.08" y1="230.00" x2="448.08" y2="231.80" stroke="#1a1a1a" stroke-width="0.7" />
<text x="423.42" y="242.45" font-size="7.5" fill="#1a1a1a">10</text>
<text x="431.92" y="239.70" font-size="5.0" fill="#1a1a1a">0</text>
<line x1="449.05" y1="230.00" x2="449.05" y2="233.80" stroke="#1a1a1a" stroke-width="0.9" />
<line x1="455.42" y1="230.00" x2="455.42" y2="231.80" stroke="#1a1a1a" stroke-width="0.7" />
<line x1="459.14" y1="230.00" x2="459.14" y2="231.80" stroke="#1a1a1a" stroke-width="0.7" />
<line x1="461.78" y1="230.00" x2="461.78" y2="231.80" stroke="#1a1a1a" stroke-width="0.7" />
<line x1="463.83" y1="230.00" x2="463.83" y2="232.30" stroke="#1a1a1a" stroke-width="0.7" />
<line x1="465.51" y1="230.00" x2="465.51" y2="231.80" stroke="#1a1a1a" stroke-width="0.7" />
<line x1="466.92" y1="230.00" x2="466.92" y2="231.80" stroke="#1a1a1a" stroke-width="0.7" />
<line x1="468.15" y1="230.00" x2="468.15" y2="231.80" stroke="#1a1a1a" stroke-width="0.7" />
<line x1="469.23" y1="230.00" x2="469.23" y2="231.80" stroke="#1a1a1a" stroke-width="0.7" />
<text x="444.57" y="242.45" font-size="7.5" fill="#1a1a1a">10</text>
<text x="452.87" y="239.65" font-size="5.0" fill="#1a1a1a">1</text>
<line x1="470.20" y1="230.00" x2="470.20" y2="233.80" stroke="#1a1a1a" stroke-width="0.9" />
<line x1="476.57" y1="230.00" x2="476.57" y2="231.80" stroke="#1a1a1a" stroke-width="0.7" />
<line x1="480.29" y1="230.00" x2="480.29" y2="231.80" stroke="#1a1a1a" stroke-width="0.7" />
<line x1="482.93" y1="230.00" x2="482.93" y2="231.80" stroke="#1a1a1a" stroke-width="0.7" />
<line x1="484.98" y1="230.00" x2="484.98" y2="232.30" stroke="#1a1a1a" stroke-width="0.7" />
<line x1="486.66" y1="230.00" x2="486.66" y2="231.80" stroke="#1a1a1a" stroke-width="0.7" />
<line x1="488.07" y1="230.00" x2="488.07" y2="231.80" stroke="#1a1a1a" stroke-width="0.7" />
<line x1="489.30" y1="230.00" x2="489.30" y2="231.80" stroke="#1a1a1a" stroke-width="0.7" />
<line x1="490.38" y1="230.00" x2="490.38" y2="231.80" stroke="#1a1a1a" stroke-width="0.7" />
<text x="465.72" y="242.45" font-size="7.5" fill="#1a1a1a">10</text>
<text x="474.17" y="239.70" font-size="5.0" fill="#1a1a1a">2</text>
<line x1="491.35" y1="230.00" x2="491.35" y2="233.80" stroke="#1a1a1a" stroke-width="0.9" />
<line x1="497.72" y1="230.00" x2="497.72" y2="231.80" stroke="#1a1a1a" stroke-width="0.7" />
<line x1="501.44" y1="230.00" x2="501.44" y2="231.80" stroke="#1a1a1a" stroke-width="0.7" />
<line x1="504.08" y1="230.00" x2="504.08" y2="231.80" stroke="#1a1a1a" stroke-width="0.7" />
<line x1="506.13" y1="230.00" x2="506.13" y2="232.30" stroke="#1a1a1a" stroke-width="0.7" />
<line x1="507.81" y1="230.00" x2="507.81" y2="231.80" stroke="#1a1a1a" stroke-width="0.7" />
<line x1="509.22" y1="230.00" x2="509.22" y2="231.80" stroke="#1a1a1a" stroke-width="0.7" />
<line x1="510.45" y1="230.00" x2="510.45" y2="231.80" stroke="#1a1a1a" stroke-width="0.7" />
<line x1="511.53" y1="230.00" x2="511.53" y2="231.80" stroke="#1a1a1a" stroke-width="0.7" />
<text x="486.88" y="242.45" font-size="7.5" fill="#1a1a1a">10</text>
<text x="495.38" y="239.70" font-size="5.0" fill="#1a1a1a">3</text>
<line x1="512.50" y1="230.00" x2="512.50" y2="233.80" stroke="#1a1a1a" stroke-width="0.9" />
<text x="508.02" y="242.45" font-size="7.5" fill="#1a1a1a">10</text>
<text x="516.62" y="239.65" font-size="5.0" fill="#1a1a1a">4</text>
<line x1="307.80" y1="262.80" x2="393.50" y2="262.80" stroke="#555" stroke-width="0.9" />
<line x1="393.50" y1="262.80" x2="393.50" y2="327.00" stroke="#555" stroke-width="0.9" />
<polyline points="335.00,326.50 339.60,326.10 342.50,323.20 344.70,317.40 346.60,305.70 348.00,291.20 349.10,279.50 350.10,267.80 350.90,263.20 353.50,263.20 354.20,267.80 355.30,279.50 356.30,291.20 357.80,305.70 359.30,317.40 361.40,323.20 364.40,325.00 368.70,326.10 372.00,326.60" fill="none" stroke="#4a4a4a" stroke-width="1.0" stroke-dasharray="1,0.75" stroke-linejoin="round"/>
<polyline points="320.00,326.60 330.80,326.10 335.20,324.00 338.10,320.30 340.30,313.00 342.50,302.80 344.70,291.20 346.60,286.00 348.00,283.90 349.50,286.00 351.20,290.40 353.40,297.00 355.60,308.60 357.80,317.40 360.00,322.50 362.90,324.70 367.30,326.10 372.00,326.60" fill="none" stroke="#111" stroke-width="1.1" stroke-linejoin="round"/>
<line x1="307.80" y1="262.50" x2="307.80" y2="327.50" stroke="#1a1a1a" stroke-width="1.1" />
<line x1="307.30" y1="327.00" x2="393.90" y2="327.00" stroke="#1a1a1a" stroke-width="1.1" />
<line x1="304.00" y1="327.00" x2="307.80" y2="327.00" stroke="#1a1a1a" stroke-width="0.9" />
<text x="298.50" y="329.50" font-size="8" fill="#1a1a1a" textLength="4.45" lengthAdjust="spacingAndGlyphs">0</text>
<line x1="306.30" y1="324.88" x2="307.80" y2="324.88" stroke="#333" stroke-width="0.6" />
<line x1="306.30" y1="322.76" x2="307.80" y2="322.76" stroke="#333" stroke-width="0.6" />
<line x1="306.30" y1="320.64" x2="307.80" y2="320.64" stroke="#333" stroke-width="0.6" />
<line x1="306.30" y1="318.52" x2="307.80" y2="318.52" stroke="#333" stroke-width="0.6" />
<line x1="305.20" y1="316.40" x2="307.80" y2="316.40" stroke="#1a1a1a" stroke-width="0.8" />
<line x1="306.30" y1="314.28" x2="307.80" y2="314.28" stroke="#333" stroke-width="0.6" />
<line x1="306.30" y1="312.16" x2="307.80" y2="312.16" stroke="#333" stroke-width="0.6" />
<line x1="306.30" y1="310.04" x2="307.80" y2="310.04" stroke="#333" stroke-width="0.6" />
<line x1="306.30" y1="307.92" x2="307.80" y2="307.92" stroke="#333" stroke-width="0.6" />
<line x1="304.00" y1="305.80" x2="307.80" y2="305.80" stroke="#1a1a1a" stroke-width="0.9" />
<text x="294.05" y="308.30" font-size="8" fill="#1a1a1a" textLength="8.90" lengthAdjust="spacingAndGlyphs">40</text>
<line x1="306.30" y1="303.68" x2="307.80" y2="303.68" stroke="#333" stroke-width="0.6" />
<line x1="306.30" y1="301.56" x2="307.80" y2="301.56" stroke="#333" stroke-width="0.6" />
<line x1="306.30" y1="299.44" x2="307.80" y2="299.44" stroke="#333" stroke-width="0.6" />
<line x1="306.30" y1="297.32" x2="307.80" y2="297.32" stroke="#333" stroke-width="0.6" />
<line x1="305.20" y1="295.20" x2="307.80" y2="295.20" stroke="#1a1a1a" stroke-width="0.8" />
<line x1="306.30" y1="293.08" x2="307.80" y2="293.08" stroke="#333" stroke-width="0.6" />
<line x1="306.30" y1="290.96" x2="307.80" y2="290.96" stroke="#333" stroke-width="0.6" />
<line x1="306.30" y1="288.84" x2="307.80" y2="288.84" stroke="#333" stroke-width="0.6" />
<line x1="306.30" y1="286.72" x2="307.80" y2="286.72" stroke="#333" stroke-width="0.6" />
<line x1="304.00" y1="284.60" x2="307.80" y2="284.60" stroke="#1a1a1a" stroke-width="0.9" />
<text x="294.05" y="287.10" font-size="8" fill="#1a1a1a" textLength="8.90" lengthAdjust="spacingAndGlyphs">80</text>
<line x1="306.30" y1="282.48" x2="307.80" y2="282.48" stroke="#333" stroke-width="0.6" />
<line x1="306.30" y1="280.36" x2="307.80" y2="280.36" stroke="#333" stroke-width="0.6" />
<line x1="306.30" y1="278.24" x2="307.80" y2="278.24" stroke="#333" stroke-width="0.6" />
<line x1="306.30" y1="276.12" x2="307.80" y2="276.12" stroke="#333" stroke-width="0.6" />
<line x1="305.20" y1="274.00" x2="307.80" y2="274.00" stroke="#1a1a1a" stroke-width="0.8" />
<line x1="306.30" y1="271.88" x2="307.80" y2="271.88" stroke="#333" stroke-width="0.6" />
<line x1="306.30" y1="269.76" x2="307.80" y2="269.76" stroke="#333" stroke-width="0.6" />
<line x1="306.30" y1="267.64" x2="307.80" y2="267.64" stroke="#333" stroke-width="0.6" />
<line x1="306.30" y1="265.52" x2="307.80" y2="265.52" stroke="#333" stroke-width="0.6" />
<line x1="304.00" y1="263.40" x2="307.80" y2="263.40" stroke="#1a1a1a" stroke-width="0.9" />
<text x="289.60" y="265.90" font-size="8" fill="#1a1a1a" textLength="13.35" lengthAdjust="spacingAndGlyphs">120</text>
<line x1="307.80" y1="327.00" x2="307.80" y2="330.80" stroke="#1a1a1a" stroke-width="0.9" />
<line x1="314.17" y1="327.00" x2="314.17" y2="328.80" stroke="#1a1a1a" stroke-width="0.7" />
<line x1="317.90" y1="327.00" x2="317.90" y2="328.80" stroke="#1a1a1a" stroke-width="0.7" />
<line x1="320.55" y1="327.00" x2="320.55" y2="328.80" stroke="#1a1a1a" stroke-width="0.7" />
<line x1="322.60" y1="327.00" x2="322.60" y2="329.30" stroke="#1a1a1a" stroke-width="0.7" />
<line x1="324.28" y1="327.00" x2="324.28" y2="328.80" stroke="#1a1a1a" stroke-width="0.7" />
<line x1="325.69" y1="327.00" x2="325.69" y2="328.80" stroke="#1a1a1a" stroke-width="0.7" />
<line x1="326.92" y1="327.00" x2="326.92" y2="328.80" stroke="#1a1a1a" stroke-width="0.7" />
<line x1="328.01" y1="327.00" x2="328.01" y2="328.80" stroke="#1a1a1a" stroke-width="0.7" />
<text x="303.32" y="339.45" font-size="7.5" fill="#1a1a1a">10</text>
<text x="311.82" y="336.70" font-size="5.0" fill="#1a1a1a">0</text>
<line x1="328.98" y1="327.00" x2="328.98" y2="330.80" stroke="#1a1a1a" stroke-width="0.9" />
<line x1="335.35" y1="327.00" x2="335.35" y2="328.80" stroke="#1a1a1a" stroke-width="0.7" />
<line x1="339.08" y1="327.00" x2="339.08" y2="328.80" stroke="#1a1a1a" stroke-width="0.7" />
<line x1="341.72" y1="327.00" x2="341.72" y2="328.80" stroke="#1a1a1a" stroke-width="0.7" />
<line x1="343.78" y1="327.00" x2="343.78" y2="329.30" stroke="#1a1a1a" stroke-width="0.7" />
<line x1="345.45" y1="327.00" x2="345.45" y2="328.80" stroke="#1a1a1a" stroke-width="0.7" />
<line x1="346.87" y1="327.00" x2="346.87" y2="328.80" stroke="#1a1a1a" stroke-width="0.7" />
<line x1="348.10" y1="327.00" x2="348.10" y2="328.80" stroke="#1a1a1a" stroke-width="0.7" />
<line x1="349.18" y1="327.00" x2="349.18" y2="328.80" stroke="#1a1a1a" stroke-width="0.7" />
<text x="324.50" y="339.45" font-size="7.5" fill="#1a1a1a">10</text>
<text x="332.80" y="336.65" font-size="5.0" fill="#1a1a1a">1</text>
<line x1="350.15" y1="327.00" x2="350.15" y2="330.80" stroke="#1a1a1a" stroke-width="0.9" />
<line x1="356.52" y1="327.00" x2="356.52" y2="328.80" stroke="#1a1a1a" stroke-width="0.7" />
<line x1="360.25" y1="327.00" x2="360.25" y2="328.80" stroke="#1a1a1a" stroke-width="0.7" />
<line x1="362.90" y1="327.00" x2="362.90" y2="328.80" stroke="#1a1a1a" stroke-width="0.7" />
<line x1="364.95" y1="327.00" x2="364.95" y2="329.30" stroke="#1a1a1a" stroke-width="0.7" />
<line x1="366.63" y1="327.00" x2="366.63" y2="328.80" stroke="#1a1a1a" stroke-width="0.7" />
<line x1="368.04" y1="327.00" x2="368.04" y2="328.80" stroke="#1a1a1a" stroke-width="0.7" />
<line x1="369.27" y1="327.00" x2="369.27" y2="328.80" stroke="#1a1a1a" stroke-width="0.7" />
<line x1="370.36" y1="327.00" x2="370.36" y2="328.80" stroke="#1a1a1a" stroke-width="0.7" />
<text x="345.67" y="339.45" font-size="7.5" fill="#1a1a1a">10</text>
<text x="354.12" y="336.70" font-size="5.0" fill="#1a1a1a">2</text>
<line x1="371.32" y1="327.00" x2="371.32" y2="330.80" stroke="#1a1a1a" stroke-width="0.9" />
<line x1="377.70" y1="327.00" x2="377.70" y2="328.80" stroke="#1a1a1a" stroke-width="0.7" />
<line x1="381.43" y1="327.00" x2="381.43" y2="328.80" stroke="#1a1a1a" stroke-width="0.7" />
<line x1="384.07" y1="327.00" x2="384.07" y2="328.80" stroke="#1a1a1a" stroke-width="0.7" />
<line x1="386.13" y1="327.00" x2="386.13" y2="329.30" stroke="#1a1a1a" stroke-width="0.7" />
<line x1="387.80" y1="327.00" x2="387.80" y2="328.80" stroke="#1a1a1a" stroke-width="0.7" />
<line x1="389.22" y1="327.00" x2="389.22" y2="328.80" stroke="#1a1a1a" stroke-width="0.7" />
<line x1="390.45" y1="327.00" x2="390.45" y2="328.80" stroke="#1a1a1a" stroke-width="0.7" />
<line x1="391.53" y1="327.00" x2="391.53" y2="328.80" stroke="#1a1a1a" stroke-width="0.7" />
<text x="366.85" y="339.45" font-size="7.5" fill="#1a1a1a">10</text>
<text x="375.35" y="336.70" font-size="5.0" fill="#1a1a1a">3</text>
<line x1="392.50" y1="327.00" x2="392.50" y2="330.80" stroke="#1a1a1a" stroke-width="0.9" />
<text x="388.02" y="339.45" font-size="7.5" fill="#1a1a1a">10</text>
<text x="396.62" y="336.65" font-size="5.0" fill="#1a1a1a">4</text>
<text x="289.00" y="306.52" font-size="7.6" fill="#1a1a1a" textLength="25.58" lengthAdjust="spacingAndGlyphs" transform="rotate(-90 289.00 306.52)" dx="0">Counts</text>
<line x1="427.90" y1="262.80" x2="513.90" y2="262.80" stroke="#555" stroke-width="0.9" />
<line x1="513.90" y1="262.80" x2="513.90" y2="326.80" stroke="#555" stroke-width="0.9" />
<polyline points="455.00,326.60 460.50,325.00 463.00,322.00 464.50,316.00 466.00,305.00 467.50,290.00 469.00,279.00 470.30,273.50 471.30,272.90 472.50,275.50 473.80,285.00 475.10,297.00 476.50,309.00 478.00,318.50 480.00,323.50 484.00,325.80 488.00,326.60" fill="none" stroke="#4a4a4a" stroke-width="1.0" stroke-dasharray="1,0.75" stroke-linejoin="round"/>
<polyline points="450.00,326.70 457.50,326.10 461.10,324.70 463.30,321.80 464.80,315.90 466.20,305.70 467.70,291.20 469.20,281.00 470.60,275.80 471.80,275.10 472.80,278.00 474.00,286.80 475.30,298.40 476.70,310.10 478.20,318.90 480.10,324.00 483.70,325.80 490.00,326.60" fill="none" stroke="#111" stroke-width="1.1" stroke-linejoin="round"/>
<line x1="427.90" y1="262.50" x2="427.90" y2="327.30" stroke="#1a1a1a" stroke-width="1.1" />
<line x1="427.40" y1="326.80" x2="514.30" y2="326.80" stroke="#1a1a1a" stroke-width="1.1" />
<line x1="424.10" y1="326.80" x2="427.90" y2="326.80" stroke="#1a1a1a" stroke-width="0.9" />
<text x="418.50" y="329.30" font-size="8" fill="#1a1a1a" textLength="4.45" lengthAdjust="spacingAndGlyphs">0</text>
<line x1="426.40" y1="324.68" x2="427.90" y2="324.68" stroke="#333" stroke-width="0.6" />
<line x1="426.40" y1="322.57" x2="427.90" y2="322.57" stroke="#333" stroke-width="0.6" />
<line x1="426.40" y1="320.45" x2="427.90" y2="320.45" stroke="#333" stroke-width="0.6" />
<line x1="426.40" y1="318.33" x2="427.90" y2="318.33" stroke="#333" stroke-width="0.6" />
<line x1="425.30" y1="316.22" x2="427.90" y2="316.22" stroke="#1a1a1a" stroke-width="0.8" />
<line x1="426.40" y1="314.10" x2="427.90" y2="314.10" stroke="#333" stroke-width="0.6" />
<line x1="426.40" y1="311.98" x2="427.90" y2="311.98" stroke="#333" stroke-width="0.6" />
<line x1="426.40" y1="309.87" x2="427.90" y2="309.87" stroke="#333" stroke-width="0.6" />
<line x1="426.40" y1="307.75" x2="427.90" y2="307.75" stroke="#333" stroke-width="0.6" />
<line x1="424.10" y1="305.63" x2="427.90" y2="305.63" stroke="#1a1a1a" stroke-width="0.9" />
<text x="414.05" y="308.13" font-size="8" fill="#1a1a1a" textLength="8.90" lengthAdjust="spacingAndGlyphs">40</text>
<line x1="426.40" y1="303.52" x2="427.90" y2="303.52" stroke="#333" stroke-width="0.6" />
<line x1="426.40" y1="301.40" x2="427.90" y2="301.40" stroke="#333" stroke-width="0.6" />
<line x1="426.40" y1="299.28" x2="427.90" y2="299.28" stroke="#333" stroke-width="0.6" />
<line x1="426.40" y1="297.17" x2="427.90" y2="297.17" stroke="#333" stroke-width="0.6" />
<line x1="425.30" y1="295.05" x2="427.90" y2="295.05" stroke="#1a1a1a" stroke-width="0.8" />
<line x1="426.40" y1="292.93" x2="427.90" y2="292.93" stroke="#333" stroke-width="0.6" />
<line x1="426.40" y1="290.82" x2="427.90" y2="290.82" stroke="#333" stroke-width="0.6" />
<line x1="426.40" y1="288.70" x2="427.90" y2="288.70" stroke="#333" stroke-width="0.6" />
<line x1="426.40" y1="286.58" x2="427.90" y2="286.58" stroke="#333" stroke-width="0.6" />
<line x1="424.10" y1="284.47" x2="427.90" y2="284.47" stroke="#1a1a1a" stroke-width="0.9" />
<text x="414.05" y="286.97" font-size="8" fill="#1a1a1a" textLength="8.90" lengthAdjust="spacingAndGlyphs">80</text>
<line x1="426.40" y1="282.35" x2="427.90" y2="282.35" stroke="#333" stroke-width="0.6" />
<line x1="426.40" y1="280.23" x2="427.90" y2="280.23" stroke="#333" stroke-width="0.6" />
<line x1="426.40" y1="278.12" x2="427.90" y2="278.12" stroke="#333" stroke-width="0.6" />
<line x1="426.40" y1="276.00" x2="427.90" y2="276.00" stroke="#333" stroke-width="0.6" />
<line x1="425.30" y1="273.88" x2="427.90" y2="273.88" stroke="#1a1a1a" stroke-width="0.8" />
<line x1="426.40" y1="271.77" x2="427.90" y2="271.77" stroke="#333" stroke-width="0.6" />
<line x1="426.40" y1="269.65" x2="427.90" y2="269.65" stroke="#333" stroke-width="0.6" />
<line x1="426.40" y1="267.53" x2="427.90" y2="267.53" stroke="#333" stroke-width="0.6" />
<line x1="426.40" y1="265.42" x2="427.90" y2="265.42" stroke="#333" stroke-width="0.6" />
<line x1="424.10" y1="263.30" x2="427.90" y2="263.30" stroke="#1a1a1a" stroke-width="0.9" />
<text x="409.60" y="265.80" font-size="8" fill="#1a1a1a" textLength="13.35" lengthAdjust="spacingAndGlyphs">120</text>
<line x1="427.90" y1="326.80" x2="427.90" y2="330.60" stroke="#1a1a1a" stroke-width="0.9" />
<line x1="434.30" y1="326.80" x2="434.30" y2="328.60" stroke="#1a1a1a" stroke-width="0.7" />
<line x1="438.04" y1="326.80" x2="438.04" y2="328.60" stroke="#1a1a1a" stroke-width="0.7" />
<line x1="440.69" y1="326.80" x2="440.69" y2="328.60" stroke="#1a1a1a" stroke-width="0.7" />
<line x1="442.75" y1="326.80" x2="442.75" y2="329.10" stroke="#1a1a1a" stroke-width="0.7" />
<line x1="444.44" y1="326.80" x2="444.44" y2="328.60" stroke="#1a1a1a" stroke-width="0.7" />
<line x1="445.86" y1="326.80" x2="445.86" y2="328.60" stroke="#1a1a1a" stroke-width="0.7" />
<line x1="447.09" y1="326.80" x2="447.09" y2="328.60" stroke="#1a1a1a" stroke-width="0.7" />
<line x1="448.18" y1="326.80" x2="448.18" y2="328.60" stroke="#1a1a1a" stroke-width="0.7" />
<text x="423.42" y="339.25" font-size="7.5" fill="#1a1a1a">10</text>
<text x="431.92" y="336.50" font-size="5.0" fill="#1a1a1a">0</text>
<line x1="449.15" y1="326.80" x2="449.15" y2="330.60" stroke="#1a1a1a" stroke-width="0.9" />
<line x1="455.55" y1="326.80" x2="455.55" y2="328.60" stroke="#1a1a1a" stroke-width="0.7" />
<line x1="459.29" y1="326.80" x2="459.29" y2="328.60" stroke="#1a1a1a" stroke-width="0.7" />
<line x1="461.94" y1="326.80" x2="461.94" y2="328.60" stroke="#1a1a1a" stroke-width="0.7" />
<line x1="464.00" y1="326.80" x2="464.00" y2="329.10" stroke="#1a1a1a" stroke-width="0.7" />
<line x1="465.69" y1="326.80" x2="465.69" y2="328.60" stroke="#1a1a1a" stroke-width="0.7" />
<line x1="467.11" y1="326.80" x2="467.11" y2="328.60" stroke="#1a1a1a" stroke-width="0.7" />
<line x1="468.34" y1="326.80" x2="468.34" y2="328.60" stroke="#1a1a1a" stroke-width="0.7" />
<line x1="469.43" y1="326.80" x2="469.43" y2="328.60" stroke="#1a1a1a" stroke-width="0.7" />
<text x="444.67" y="339.25" font-size="7.5" fill="#1a1a1a">10</text>
<text x="452.97" y="336.45" font-size="5.0" fill="#1a1a1a">1</text>
<line x1="470.40" y1="326.80" x2="470.40" y2="330.60" stroke="#1a1a1a" stroke-width="0.9" />
<line x1="476.80" y1="326.80" x2="476.80" y2="328.60" stroke="#1a1a1a" stroke-width="0.7" />
<line x1="480.54" y1="326.80" x2="480.54" y2="328.60" stroke="#1a1a1a" stroke-width="0.7" />
<line x1="483.19" y1="326.80" x2="483.19" y2="328.60" stroke="#1a1a1a" stroke-width="0.7" />
<line x1="485.25" y1="326.80" x2="485.25" y2="329.10" stroke="#1a1a1a" stroke-width="0.7" />
<line x1="486.94" y1="326.80" x2="486.94" y2="328.60" stroke="#1a1a1a" stroke-width="0.7" />
<line x1="488.36" y1="326.80" x2="488.36" y2="328.60" stroke="#1a1a1a" stroke-width="0.7" />
<line x1="489.59" y1="326.80" x2="489.59" y2="328.60" stroke="#1a1a1a" stroke-width="0.7" />
<line x1="490.68" y1="326.80" x2="490.68" y2="328.60" stroke="#1a1a1a" stroke-width="0.7" />
<text x="465.92" y="339.25" font-size="7.5" fill="#1a1a1a">10</text>
<text x="474.37" y="336.50" font-size="5.0" fill="#1a1a1a">2</text>
<line x1="491.65" y1="326.80" x2="491.65" y2="330.60" stroke="#1a1a1a" stroke-width="0.9" />
<line x1="498.05" y1="326.80" x2="498.05" y2="328.60" stroke="#1a1a1a" stroke-width="0.7" />
<line x1="501.79" y1="326.80" x2="501.79" y2="328.60" stroke="#1a1a1a" stroke-width="0.7" />
<line x1="504.44" y1="326.80" x2="504.44" y2="328.60" stroke="#1a1a1a" stroke-width="0.7" />
<line x1="506.50" y1="326.80" x2="506.50" y2="329.10" stroke="#1a1a1a" stroke-width="0.7" />
<line x1="508.19" y1="326.80" x2="508.19" y2="328.60" stroke="#1a1a1a" stroke-width="0.7" />
<line x1="509.61" y1="326.80" x2="509.61" y2="328.60" stroke="#1a1a1a" stroke-width="0.7" />
<line x1="510.84" y1="326.80" x2="510.84" y2="328.60" stroke="#1a1a1a" stroke-width="0.7" />
<line x1="511.93" y1="326.80" x2="511.93" y2="328.60" stroke="#1a1a1a" stroke-width="0.7" />
<text x="487.17" y="339.25" font-size="7.5" fill="#1a1a1a">10</text>
<text x="495.67" y="336.50" font-size="5.0" fill="#1a1a1a">3</text>
<line x1="512.90" y1="326.80" x2="512.90" y2="330.60" stroke="#1a1a1a" stroke-width="0.9" />
<text x="508.42" y="339.25" font-size="7.5" fill="#1a1a1a">10</text>
<text x="517.02" y="336.45" font-size="5.0" fill="#1a1a1a">4</text>
<text x="0.09" y="11.50" font-size="15.8" font-weight="bold" fill="#000" textLength="11.68" lengthAdjust="spacingAndGlyphs">A</text>
<text x="17.19" y="20.90" font-size="9.71" font-weight="bold" fill="#000" textLength="42.76" lengthAdjust="spacingAndGlyphs">Monocyte</text>
<text x="65.05" y="25.70" font-size="11.0" fill="#1a1a1a" textLength="33.17" lengthAdjust="spacingAndGlyphs">#85-Tg</text>
<text x="98.39" y="22.40" font-size="7.72" fill="#1a1a1a" textLength="6.60" lengthAdjust="spacingAndGlyphs">hi</text>
<text x="182.25" y="25.70" font-size="11.0" fill="#1a1a1a" textLength="33.47" lengthAdjust="spacingAndGlyphs">#88-Tg</text>
<text x="215.33" y="22.60" font-size="8.0" fill="#1a1a1a" textLength="8.77" lengthAdjust="spacingAndGlyphs">int</text>
<text x="106.46" y="118.90" font-size="9.52" font-weight="bold" fill="#000" textLength="70.58" lengthAdjust="spacingAndGlyphs">CD18 (C71/16)</text>
<text x="125.66" y="211.10" font-size="9.79" font-weight="bold" fill="#000" textLength="33.53" lengthAdjust="spacingAndGlyphs">CD11b</text>
<text x="270.91" y="11.90" font-size="16.38" font-weight="bold" fill="#000" textLength="11.69" lengthAdjust="spacingAndGlyphs">B</text>
<text x="298.16" y="21.40" font-size="8.69" font-weight="bold" fill="#000" textLength="102.25" lengthAdjust="spacingAndGlyphs">Peritoneal Macrophage</text>
<text x="434.15" y="21.40" font-size="8.69" font-weight="bold" fill="#000" textLength="72.44" lengthAdjust="spacingAndGlyphs">BM Macrophage</text>
<text x="372.47" y="114.00" font-size="9.93" font-weight="bold" fill="#000" textLength="72.31" lengthAdjust="spacingAndGlyphs">CD18 (C71/16)</text>
<text x="319.76" y="63.30" font-size="8.14" fill="#1a1a1a" textLength="12.45" lengthAdjust="spacingAndGlyphs">7.2</text>
<text x="344.50" y="63.30" font-size="8.26" fill="#1a1a1a" textLength="14.23" lengthAdjust="spacingAndGlyphs">114</text>
<text x="356.65" y="37.50" font-size="8.14" fill="#1a1a1a" textLength="15.84" lengthAdjust="spacingAndGlyphs">308</text>
<text x="436.52" y="65.00" font-size="8.14" fill="#1a1a1a" textLength="10.77" lengthAdjust="spacingAndGlyphs">25</text>
<text x="457.96" y="52.40" font-size="8.14" fill="#1a1a1a" textLength="14.48" lengthAdjust="spacingAndGlyphs">134</text>
<text x="477.03" y="52.40" font-size="8.14" fill="#1a1a1a" textLength="15.96" lengthAdjust="spacingAndGlyphs">228</text>
<text x="270.63" y="144.80" font-size="17.0" font-weight="bold" fill="#000" textLength="11.78" lengthAdjust="spacingAndGlyphs">C</text>
<text x="285.10" y="157.80" font-size="9.38" font-weight="bold" fill="#000" textLength="23.59" lengthAdjust="spacingAndGlyphs">T cell</text>
<text x="332.45" y="162.70" font-size="10.71" fill="#1a1a1a" textLength="33.29" lengthAdjust="spacingAndGlyphs">#85-Tg</text>
<text x="365.37" y="159.10" font-size="7.45" fill="#1a1a1a" textLength="7.32" lengthAdjust="spacingAndGlyphs">hi</text>
<text x="449.75" y="162.70" font-size="10.71" fill="#1a1a1a" textLength="34.00" lengthAdjust="spacingAndGlyphs">#88-Tg</text>
<text x="482.44" y="159.40" font-size="8.14" fill="#1a1a1a" textLength="8.77" lengthAdjust="spacingAndGlyphs">int</text>
<text x="372.43" y="254.30" font-size="9.24" font-weight="bold" fill="#000" textLength="71.97" lengthAdjust="spacingAndGlyphs">CD18 (C71/16)</text>
<text x="391.83" y="349.50" font-size="10.07" font-weight="bold" fill="#000" textLength="32.15" lengthAdjust="spacingAndGlyphs">CD11a</text>
<line x1="92.40" y1="225.20" x2="92.40" y2="416.50" stroke="#777" stroke-width="1.0" />
<line x1="142.10" y1="225.20" x2="142.10" y2="416.50" stroke="#777" stroke-width="1.0" />
<line x1="192.00" y1="225.20" x2="192.00" y2="416.50" stroke="#777" stroke-width="1.0" />
<line x1="42.00" y1="225.20" x2="241.50" y2="225.20" stroke="#333" stroke-width="1.1" />
<line x1="241.50" y1="225.20" x2="241.50" y2="416.50" stroke="#555" stroke-width="1.0" />
<line x1="55.55" y1="402.70" x2="55.55" y2="401.60" stroke="#000" stroke-width="1.1" />
<line x1="52.85" y1="401.60" x2="58.25" y2="401.60" stroke="#000" stroke-width="1.1" />
<rect x="49.90" y="402.70" width="11.30" height="13.60" fill="#000" stroke="#000" stroke-width="1.0"/>
<line x1="66.85" y1="383.10" x2="66.85" y2="381.70" stroke="#000" stroke-width="1.1" />
<line x1="64.15" y1="381.70" x2="69.55" y2="381.70" stroke="#000" stroke-width="1.1" />
<rect x="61.20" y="383.10" width="11.30" height="33.20" fill="#999" stroke="#000" stroke-width="1.0"/>
<line x1="78.15" y1="342.30" x2="78.15" y2="334.30" stroke="#000" stroke-width="1.1" />
<line x1="75.45" y1="334.30" x2="80.85" y2="334.30" stroke="#000" stroke-width="1.1" />
<rect x="72.50" y="342.30" width="11.30" height="74.00" fill="#fff" stroke="#000" stroke-width="1.0"/>
<polyline points="54.80,320.10 55.10,318.20 78.10,318.20 78.40,320.10" fill="none" stroke="#222" stroke-width="0.95" stroke-linejoin="round"/>
<polygon points="66.60,312.90 67.18,314.30 68.69,314.42 67.54,315.41 67.89,316.88 66.60,316.09 65.31,316.88 65.66,315.41 64.51,314.42 66.02,314.30" fill="#000" stroke="#000" stroke-width="0.3"/>
<polyline points="65.80,329.50 66.10,327.60 78.10,327.60 78.40,329.50" fill="none" stroke="#222" stroke-width="0.95" stroke-linejoin="round"/>
<polygon points="72.10,322.30 72.68,323.70 74.19,323.82 73.04,324.81 73.39,326.28 72.10,325.49 70.81,326.28 71.16,324.81 70.01,323.82 71.52,323.70" fill="#000" stroke="#000" stroke-width="0.3"/>
<line x1="105.15" y1="397.00" x2="105.15" y2="396.00" stroke="#000" stroke-width="1.1" />
<line x1="102.45" y1="396.00" x2="107.85" y2="396.00" stroke="#000" stroke-width="1.1" />
<rect x="99.50" y="397.00" width="11.30" height="19.30" fill="#000" stroke="#000" stroke-width="1.0"/>
<line x1="116.45" y1="362.50" x2="116.45" y2="361.00" stroke="#000" stroke-width="1.1" />
<line x1="113.75" y1="361.00" x2="119.15" y2="361.00" stroke="#000" stroke-width="1.1" />
<rect x="110.80" y="362.50" width="11.30" height="53.80" fill="#999" stroke="#000" stroke-width="1.0"/>
<line x1="127.75" y1="288.20" x2="127.75" y2="283.20" stroke="#000" stroke-width="1.1" />
<line x1="125.05" y1="283.20" x2="130.45" y2="283.20" stroke="#000" stroke-width="1.1" />
<rect x="122.10" y="288.20" width="11.30" height="128.10" fill="#fff" stroke="#000" stroke-width="1.0"/>
<polyline points="103.40,269.10 103.70,267.20 126.90,267.20 127.20,269.10" fill="none" stroke="#222" stroke-width="0.95" stroke-linejoin="round"/>
<polygon points="115.30,261.90 115.88,263.30 117.39,263.42 116.24,264.41 116.59,265.88 115.30,265.09 114.01,265.88 114.36,264.41 113.21,263.42 114.72,263.30" fill="#000" stroke="#000" stroke-width="0.3"/>
<polyline points="114.40,278.10 114.70,276.20 126.90,276.20 127.20,278.10" fill="none" stroke="#222" stroke-width="0.95" stroke-linejoin="round"/>
<polygon points="120.80,270.90 121.38,272.30 122.89,272.42 121.74,273.41 122.09,274.88 120.80,274.09 119.51,274.88 119.86,273.41 118.71,272.42 120.22,272.30" fill="#000" stroke="#000" stroke-width="0.3"/>
<line x1="154.95" y1="393.80" x2="154.95" y2="392.60" stroke="#000" stroke-width="1.1" />
<line x1="152.25" y1="392.60" x2="157.65" y2="392.60" stroke="#000" stroke-width="1.1" />
<rect x="149.30" y="393.80" width="11.30" height="22.50" fill="#000" stroke="#000" stroke-width="1.0"/>
<line x1="166.25" y1="352.40" x2="166.25" y2="350.40" stroke="#000" stroke-width="1.1" />
<line x1="163.55" y1="350.40" x2="168.95" y2="350.40" stroke="#000" stroke-width="1.1" />
<rect x="160.60" y="352.40" width="11.30" height="63.90" fill="#999" stroke="#000" stroke-width="1.0"/>
<line x1="177.55" y1="270.70" x2="177.55" y2="262.40" stroke="#000" stroke-width="1.1" />
<line x1="174.85" y1="262.40" x2="180.25" y2="262.40" stroke="#000" stroke-width="1.1" />
<rect x="171.90" y="270.70" width="11.30" height="145.60" fill="#fff" stroke="#000" stroke-width="1.0"/>
<polyline points="153.20,249.60 153.50,247.70 176.50,247.70 176.80,249.60" fill="none" stroke="#222" stroke-width="0.95" stroke-linejoin="round"/>
<polygon points="165.00,242.40 165.58,243.80 167.09,243.92 165.94,244.91 166.29,246.38 165.00,245.59 163.71,246.38 164.06,244.91 162.91,243.92 164.42,243.80" fill="#000" stroke="#000" stroke-width="0.3"/>
<polyline points="164.50,258.70 164.80,256.80 176.50,256.80 176.80,258.70" fill="none" stroke="#222" stroke-width="0.95" stroke-linejoin="round"/>
<polygon points="170.65,251.50 171.23,252.90 172.74,253.02 171.59,254.01 171.94,255.48 170.65,254.69 169.36,255.48 169.71,254.01 168.56,253.02 170.07,252.90" fill="#000" stroke="#000" stroke-width="0.3"/>
<line x1="205.05" y1="408.20" x2="205.05" y2="407.40" stroke="#000" stroke-width="1.1" />
<line x1="202.35" y1="407.40" x2="207.75" y2="407.40" stroke="#000" stroke-width="1.1" />
<rect x="199.40" y="408.20" width="11.30" height="8.10" fill="#000" stroke="#000" stroke-width="1.0"/>
<line x1="216.35" y1="383.00" x2="216.35" y2="380.60" stroke="#000" stroke-width="1.1" />
<line x1="213.65" y1="380.60" x2="219.05" y2="380.60" stroke="#000" stroke-width="1.1" />
<rect x="210.70" y="383.00" width="11.30" height="33.30" fill="#999" stroke="#000" stroke-width="1.0"/>
<line x1="227.65" y1="346.20" x2="227.65" y2="338.70" stroke="#000" stroke-width="1.1" />
<line x1="224.95" y1="338.70" x2="230.35" y2="338.70" stroke="#000" stroke-width="1.1" />
<rect x="222.00" y="346.20" width="11.30" height="70.10" fill="#fff" stroke="#000" stroke-width="1.0"/>
<polyline points="203.00,324.00 203.30,322.10 226.30,322.10 226.60,324.00" fill="none" stroke="#222" stroke-width="0.95" stroke-linejoin="round"/>
<polygon points="214.80,316.80 215.38,318.20 216.89,318.32 215.74,319.31 216.09,320.78 214.80,319.99 213.51,320.78 213.86,319.31 212.71,318.32 214.22,318.20" fill="#000" stroke="#000" stroke-width="0.3"/>
<polyline points="214.30,333.10 214.60,331.20 226.30,331.20 226.60,333.10" fill="none" stroke="#222" stroke-width="0.95" stroke-linejoin="round"/>
<polygon points="220.45,325.90 221.03,327.30 222.54,327.42 221.39,328.41 221.74,329.88 220.45,329.09 219.16,329.88 219.51,328.41 218.36,327.42 219.87,327.30" fill="#000" stroke="#000" stroke-width="0.3"/>
<line x1="42.60" y1="413.90" x2="241.50" y2="413.90" stroke="#111" stroke-width="1.3" stroke-dasharray="1.5,1.6"/>
<line x1="42.00" y1="225.20" x2="42.00" y2="416.50" stroke="#444" stroke-width="1.2" />
<line x1="42.00" y1="416.50" x2="241.50" y2="416.50" stroke="#222" stroke-width="1.2" />
<line x1="36.50" y1="416.50" x2="42.00" y2="416.50" stroke="#333" stroke-width="1.0" />
<text x="34.40" y="419.70" font-size="9" text-anchor="end" fill="#1a1a1a" >0</text>
<line x1="36.50" y1="389.15" x2="42.00" y2="389.15" stroke="#333" stroke-width="1.0" />
<text x="34.40" y="392.35" font-size="9" text-anchor="end" fill="#1a1a1a" >1</text>
<line x1="36.50" y1="361.80" x2="42.00" y2="361.80" stroke="#333" stroke-width="1.0" />
<text x="34.40" y="365.00" font-size="9" text-anchor="end" fill="#1a1a1a" >2</text>
<line x1="36.50" y1="334.45" x2="42.00" y2="334.45" stroke="#333" stroke-width="1.0" />
<text x="34.40" y="337.65" font-size="9" text-anchor="end" fill="#1a1a1a" >3</text>
<line x1="36.50" y1="307.10" x2="42.00" y2="307.10" stroke="#333" stroke-width="1.0" />
<text x="34.40" y="310.30" font-size="9" text-anchor="end" fill="#1a1a1a" >4</text>
<line x1="36.50" y1="279.75" x2="42.00" y2="279.75" stroke="#333" stroke-width="1.0" />
<text x="34.40" y="282.95" font-size="9" text-anchor="end" fill="#1a1a1a" >5</text>
<line x1="36.50" y1="252.40" x2="42.00" y2="252.40" stroke="#333" stroke-width="1.0" />
<text x="34.40" y="255.60" font-size="9" text-anchor="end" fill="#1a1a1a" >6</text>
<line x1="36.50" y1="225.05" x2="42.00" y2="225.05" stroke="#333" stroke-width="1.0" />
<text x="34.40" y="228.25" font-size="9" text-anchor="end" fill="#1a1a1a" >7</text>
<text x="25.20" y="345.66" font-size="10.2" fill="#1a1a1a" textLength="46.59" lengthAdjust="spacingAndGlyphs" transform="rotate(-90 25.20 345.66)">MFI X 10</text>
<text x="21.60" y="299.49" font-size="7.0" fill="#1a1a1a" textLength="6.55" lengthAdjust="spacingAndGlyphs" transform="rotate(-90 21.60 299.49)">2</text>
<text x="50.23" y="429.50" font-size="10.0" fill="#1a1a1a" textLength="37.10" lengthAdjust="spacingAndGlyphs">αCD18</text>
<text x="48.56" y="442.40" font-size="10.28" fill="#1a1a1a" textLength="40.40" lengthAdjust="spacingAndGlyphs">(M18/2)</text>
<text x="99.78" y="429.50" font-size="10.0" fill="#1a1a1a" textLength="37.05" lengthAdjust="spacingAndGlyphs">αCD18</text>
<text x="95.17" y="442.40" font-size="10.28" fill="#1a1a1a" textLength="44.79" lengthAdjust="spacingAndGlyphs">(C71/16)</text>
<text x="145.43" y="429.50" font-size="10.0" fill="#1a1a1a" textLength="42.40" lengthAdjust="spacingAndGlyphs">αCD11a</text>
<text x="152.35" y="442.40" font-size="10.28" fill="#1a1a1a" textLength="29.43" lengthAdjust="spacingAndGlyphs">(2D7)</text>
<text x="194.41" y="429.50" font-size="9.66" fill="#1a1a1a" textLength="42.85" lengthAdjust="spacingAndGlyphs">αCD11b</text>
<text x="196.08" y="442.40" font-size="10.28" fill="#1a1a1a" textLength="38.95" lengthAdjust="spacingAndGlyphs">(M1/70)</text>
<rect x="27.00" y="451.30" width="16.20" height="12.00" fill="#000" stroke="#000" stroke-width="0.8"/>
<text x="47.95" y="463.30" font-size="12.86" fill="#1a1a1a" textLength="41.38" lengthAdjust="spacingAndGlyphs">#85-Tg</text>
<text x="88.14" y="458.60" font-size="9.52" fill="#1a1a1a" textLength="8.68" lengthAdjust="spacingAndGlyphs">hi</text>
<rect x="103.40" y="451.20" width="17.40" height="12.20" fill="#888" stroke="#555" stroke-width="0.9"/>
<text x="125.75" y="463.30" font-size="12.86" fill="#1a1a1a" textLength="40.77" lengthAdjust="spacingAndGlyphs">#88-Tg</text>
<text x="166.27" y="458.40" font-size="9.24" fill="#1a1a1a" textLength="10.15" lengthAdjust="spacingAndGlyphs">int</text>
<rect x="183.40" y="451.10" width="16.20" height="12.30" fill="#fff" stroke="#666" stroke-width="1.0"/>
<text x="205.06" y="462.60" font-size="12.0" fill="#1a1a1a" textLength="45.88" lengthAdjust="spacingAndGlyphs">C57Bl/6</text>
</svg></body></html>
